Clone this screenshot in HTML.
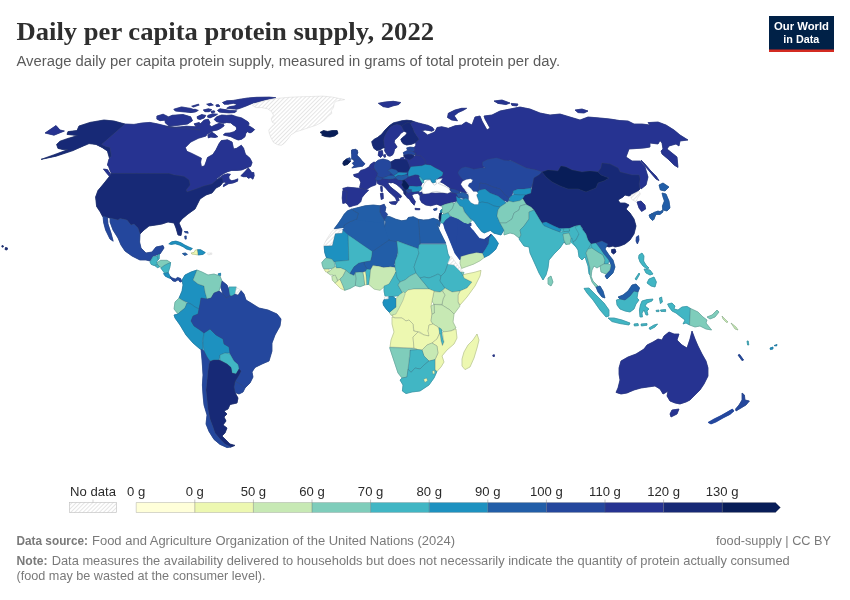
<!DOCTYPE html>
<html lang="en"><head><meta charset="utf-8"><title>Daily per capita protein supply, 2022</title>
<style>
html,body{margin:0;padding:0;background:#fff;}
body{width:850px;height:600px;overflow:hidden;position:relative;font-family:"Liberation Sans",sans-serif;}
svg{position:absolute;left:0;top:0;}
.title{font-family:"Liberation Serif",serif;font-weight:bold;font-size:26px;fill:#2e2e2e;}
.sub{font-size:14px;fill:#5b5b5b;}
.lg{font-size:13.1px;fill:#2b2b2b;}
.ft{font-size:12.4px;fill:#7a7a7a;}
.ft.b{font-weight:bold;}
.logo{font-weight:bold;font-size:11.8px;fill:#fff;}
</style></head><body>
<svg width="850" height="600" viewBox="0 0 850 600">
<defs>
<pattern id="hatch" width="2.9" height="2.9" patternUnits="userSpaceOnUse" patternTransform="rotate(45)"><rect width="2.9" height="2.9" fill="#fff"/><rect width="0.75" height="2.9" fill="#dedede"/></pattern>
</defs>
<rect width="850" height="600" fill="#fff"/>
<text x="16.5" y="40" class="title" textLength="417.5" lengthAdjust="spacingAndGlyphs">Daily per capita protein supply, 2022</text>
<text x="16.5" y="66.3" class="sub" textLength="543.5" lengthAdjust="spacingAndGlyphs">Average daily per capita protein supply, measured in grams of total protein per day.</text>
<g id="logo"><rect x="769" y="16" width="65" height="36" fill="#002147"/><rect x="769" y="49.5" width="65" height="2.5" fill="#d42b21"/>
<text x="774" y="30.3" class="logo" textLength="55" lengthAdjust="spacingAndGlyphs">Our World</text><text x="783.3" y="42.5" class="logo" textLength="36" lengthAdjust="spacingAndGlyphs">in Data</text></g>
<g id="map">
<path d="M79.0,126.0 90.0,122.4 104.0,120.0 114.0,121.0 125.0,124.0 101.6,144.4 106.0,146.4 110.0,147.6 111.4,156.0 109.4,158.0 107.4,151.0 102.0,147.4 96.0,144.4 89.0,143.6 80.0,147.4 73.0,150.6 56.0,156.2 41.0,159.4 55.0,154.4 68.0,149.6 63.0,149.6 58.0,148.4 56.6,144.4 60.0,141.2 68.0,138.4 77.6,135.6 67.0,134.4 68.0,131.6 77.0,130.6Z" fill="#172976" stroke="#172976" stroke-width="0.7" stroke-linejoin="round"/>
<path d="M45.0,133.0 56.0,125.6 60.0,130.0 64.4,131.0 54.0,135.2Z" fill="#263391" stroke="#263391" stroke-width="0.7" stroke-linejoin="round"/>
<path d="M125.0,124.0 134.0,124.4 142.0,123.0 150.0,122.4 158.0,124.0 166.0,126.0 174.0,127.0 182.0,127.0 190.0,128.0 200.0,130.0 166.1,127.1 175.3,127.7 186.1,126.2 195.0,126.7 200.0,124.2 204.2,120.0 208.3,119.2 210.0,122.5 209.2,125.0 211.7,126.7 215.0,125.0 219.2,123.3 223.3,124.2 224.2,125.8 220.8,128.3 217.5,130.0 213.3,130.8 210.0,132.5 206.7,134.6 206.0,136.0 198.3,138.3 190.7,142.1 185.3,147.5 186.8,151.3 190.7,152.9 196.8,155.9 201.4,158.2 200.6,162.1 201.4,166.7 204.5,165.9 206.0,162.1 207.5,157.5 212.9,154.4 216.0,149.8 219.0,143.7 221.3,140.6 227.5,139.8 232.1,142.1 233.6,149.0 236.7,148.3 241.3,145.2 243.6,148.3 245.4,154.2 250.0,158.3 252.1,162.5 250.8,166.2 246.7,167.9 241.7,170.0 236.7,170.4 231.7,170.4 227.5,171.7 223.3,173.8 219.2,176.7 216.7,178.8 220.0,186.0 223.0,182.0 222.0,178.0 218.0,179.0 212.0,184.0 204.0,186.0 196.0,189.0 187.0,192.0 186.0,190.0 190.0,185.0 189.0,180.0 184.0,176.4 174.0,175.0 169.0,173.6 111.4,173.4 110.0,170.4 108.6,166.4 107.4,165.0 109.0,159.0 111.4,156.0 110.0,147.6 106.0,146.4 101.6,144.4Z" fill="#263391" stroke="#263391" stroke-width="0.7" stroke-linejoin="round"/>
<path d="M164.6,118.4 172.3,115.3 183.0,114.5 190.7,116.8 192.5,120.7 187.6,124.0 178.4,125.3 169.2,126.0 165.4,123.0Z" fill="#263391" stroke="#263391" stroke-width="0.7" stroke-linejoin="round"/>
<path d="M156.9,116.1 163.1,114.2 167.7,116.4 166.4,119.9 160.0,120.7 156.9,119.1Z" fill="#263391" stroke="#263391" stroke-width="0.7" stroke-linejoin="round"/>
<path d="M218.8,178.2 223.3,175.0 227.5,173.8 230.4,174.2 228.8,176.7 229.2,179.2 231.7,180.8 235.0,180.0 237.9,178.8 237.5,181.2 233.3,182.9 228.3,183.8 225.0,185.8 223.3,186.7 223.8,184.6 226.7,182.9 224.2,182.1 222.5,182.5 222.1,178.3Z" fill="#263391" stroke="#263391" stroke-width="0.7" stroke-linejoin="round"/>
<path d="M240.8,175.8 244.2,172.5 248.3,167.9 250.0,170.0 251.7,172.5 253.8,172.5 254.2,175.8 252.9,179.2 250.8,177.5 248.3,178.3 246.7,176.7 243.3,176.7Z" fill="#263391" stroke="#263391" stroke-width="0.7" stroke-linejoin="round"/>
<path d="M214.2,119.6 216.7,116.7 221.7,115.0 226.7,115.4 231.7,115.0 236.7,116.7 241.7,117.9 245.0,120.0 248.3,122.1 249.2,124.2 247.5,125.0 251.7,127.5 254.6,129.6 252.5,131.7 250.0,132.9 247.5,131.7 245.8,133.3 245.0,136.7 241.7,139.2 238.3,140.0 235.0,138.8 230.8,136.7 226.7,135.8 223.3,135.0 225.0,133.3 230.0,132.9 234.2,131.7 236.7,129.2 236.2,126.7 233.3,125.0 230.8,122.9 226.7,122.5 223.3,123.3 220.0,122.5 216.7,121.7Z" fill="#263391" stroke="#263391" stroke-width="0.7" stroke-linejoin="round"/>
<path d="M207.9,135.0 211.7,132.1 215.0,134.2 217.9,136.7 215.0,137.5 210.8,137.1 208.3,137.9Z" fill="#263391" stroke="#263391" stroke-width="0.7" stroke-linejoin="round"/>
<path d="M222.5,102.5 226.7,100.8 233.3,100.4 240.0,99.2 248.3,97.9 256.7,97.3 269.2,97.1 275.8,97.7 270.0,98.8 263.3,100.4 256.7,102.3 253.3,102.9 246.7,105.8 240.0,108.3 236.7,109.2 231.7,108.8 226.7,108.3 229.2,106.7 235.0,105.8 236.7,104.2 233.3,103.3 228.3,104.2 224.2,104.2Z" fill="#263391" stroke="#263391" stroke-width="0.7" stroke-linejoin="round"/>
<path d="M217.5,110.4 220.0,108.8 225.0,109.6 230.0,110.4 236.7,110.8 235.0,112.5 229.2,112.9 223.3,112.5 219.2,112.1Z" fill="#263391" stroke="#263391" stroke-width="0.7" stroke-linejoin="round"/>
<path d="M173.8,109.2 181.5,106.9 190.7,108.4 196.8,110.7 190.7,112.5 183.0,111.8 175.3,111.0Z" fill="#263391" stroke="#263391" stroke-width="0.7" stroke-linejoin="round"/>
<path d="M191.7,106.2 198.3,104.2 199.2,105.0 193.3,107.1Z" fill="#263391" stroke="#263391" stroke-width="0.7" stroke-linejoin="round"/>
<path d="M190.0,110.8 195.0,109.2 198.3,110.4 195.0,112.1 190.0,112.5Z" fill="#263391" stroke="#263391" stroke-width="0.7" stroke-linejoin="round"/>
<path d="M203.3,110.0 208.3,108.8 211.7,109.6 209.2,111.7 205.0,111.7Z" fill="#263391" stroke="#263391" stroke-width="0.7" stroke-linejoin="round"/>
<path d="M206.7,104.2 210.8,103.3 213.3,105.0 209.2,105.8Z" fill="#263391" stroke="#263391" stroke-width="0.7" stroke-linejoin="round"/>
<path d="M215.8,105.0 218.3,104.6 220.0,106.2 216.7,106.7Z" fill="#263391" stroke="#263391" stroke-width="0.7" stroke-linejoin="round"/>
<path d="M210.8,111.2 214.2,110.8 215.0,112.1 211.7,112.9Z" fill="#263391" stroke="#263391" stroke-width="0.7" stroke-linejoin="round"/>
<path d="M197.1,116.7 201.7,114.6 205.8,115.4 204.2,117.9 200.0,119.6 197.5,118.8Z" fill="#263391" stroke="#263391" stroke-width="0.7" stroke-linejoin="round"/>
<path d="M207.9,115.4 212.5,113.8 217.5,114.2 215.0,115.8 210.0,117.9 207.5,117.1Z" fill="#263391" stroke="#263391" stroke-width="0.7" stroke-linejoin="round"/>
<path d="M194.2,123.8 199.2,122.5 200.8,124.2 198.3,125.8 195.0,125.4Z" fill="#263391" stroke="#263391" stroke-width="0.7" stroke-linejoin="round"/>
<path d="M320.0,132.4 323.5,130.6 327.6,131.4 332.4,130.6 337.1,130.6 338.0,133.5 334.7,135.9 330.0,137.1 325.3,136.5 321.8,135.3 322.4,133.8Z" fill="#081d58" stroke="#081d58" stroke-width="0.7" stroke-linejoin="round"/>
<path d="M5.5,247.5 7.5,248.0 7.0,250.0 5.0,249.5Z" fill="#172976" stroke="#172976" stroke-width="0.7" stroke-linejoin="round"/>
<path d="M2.0,245.5 3.5,246.0 3.0,247.2 1.8,246.8Z" fill="#172976" stroke="#172976" stroke-width="0.7" stroke-linejoin="round"/>
<path d="M103.4,169.0 107.4,169.6 111.4,175.0 110.0,177.0 106.6,173.0Z" fill="#263391" stroke="#263391" stroke-width="0.7" stroke-linejoin="round"/>
<path d="M111.4,173.4 169.0,173.6 174.0,175.0 184.0,176.4 189.0,180.0 190.0,185.0 186.0,190.0 187.0,192.0 196.0,189.0 204.0,186.0 212.0,184.0 218.0,179.0 222.0,178.0 223.0,182.0 220.0,186.0 216.0,188.0 212.0,193.0 206.0,195.0 200.0,199.0 198.0,203.0 195.0,209.0 188.0,214.0 182.0,219.0 179.0,223.0 182.0,230.0 181.0,235.6 178.0,235.0 176.0,228.0 174.0,223.0 168.0,222.0 162.0,224.0 156.0,225.0 149.0,226.0 144.0,230.0 140.0,234.0 138.0,228.0 134.0,224.0 131.0,225.0 127.0,220.0 120.0,218.4 118.0,220.0 110.0,218.0 102.6,216.4 100.0,211.6 96.6,206.4 95.6,197.0 98.0,190.4 102.6,185.0 108.6,177.6Z" fill="#172976" stroke="#172976" stroke-width="0.7" stroke-linejoin="round"/>
<path d="M110.0,218.0 118.0,220.0 120.0,218.4 127.0,220.0 131.0,225.0 134.0,224.0 138.0,228.0 140.0,234.0 139.6,242.0 141.0,248.0 146.0,253.0 152.0,252.0 156.0,247.0 163.0,245.6 164.0,248.0 160.0,254.0 155.0,255.6 153.0,256.0 150.0,261.0 146.0,260.0 140.0,260.0 132.0,256.0 125.0,251.0 121.0,245.0 118.0,238.0 113.0,230.0 110.0,222.0Z" fill="#24479d" stroke="#24479d" stroke-width="0.7" stroke-linejoin="round"/>
<path d="M103.0,216.0 107.4,217.2 108.0,224.0 111.0,233.0 113.2,241.2 110.0,239.0 105.6,230.0 103.6,222.4Z" fill="#24479d" stroke="#24479d" stroke-width="0.7" stroke-linejoin="round"/>
<path d="M150.0,262.1 152.9,256.8 157.1,256.2 158.2,259.7 156.5,262.1 157.6,264.4 154.1,265.6 151.2,264.4Z" fill="#41b6c4" stroke="#41b6c4" stroke-width="0.7" stroke-linejoin="round"/>
<path d="M157.3,255.6 159.4,253.8 159.2,258.5 158.2,259.7Z" fill="#41b6c4" stroke="#41b6c4" stroke-width="0.7" stroke-linejoin="round"/>
<path d="M157.1,262.6 160.6,260.3 167.1,260.3 170.6,262.6 167.6,263.8 164.1,265.6 161.8,267.4 159.4,266.8 157.6,264.4Z" fill="#7fcdbb" stroke="#7fcdbb" stroke-width="0.7" stroke-linejoin="round"/>
<path d="M154.7,265.6 157.6,264.6 159.6,266.8 157.6,267.7Z" fill="#41b6c4" stroke="#41b6c4" stroke-width="0.7" stroke-linejoin="round"/>
<path d="M160.8,267.9 161.8,267.4 164.1,265.6 167.6,263.8 170.6,262.6 170.0,266.8 168.2,272.6 164.7,273.2 162.4,270.3Z" fill="#41b6c4" stroke="#41b6c4" stroke-width="0.7" stroke-linejoin="round"/>
<path d="M163.5,273.6 168.2,272.6 170.0,276.2 171.2,278.5 168.8,277.9 165.3,276.2Z" fill="#1d91c0" stroke="#1d91c0" stroke-width="0.7" stroke-linejoin="round"/>
<path d="M170.6,278.5 170.0,276.4 172.4,277.9 175.3,279.1 177.6,277.4 180.6,278.5 181.8,281.5 180.0,282.1 178.2,279.7 175.3,281.5 172.9,280.9Z" fill="#24479d" stroke="#24479d" stroke-width="0.7" stroke-linejoin="round"/>
<path d="M168.8,243.8 171.8,241.8 175.9,241.1 180.6,242.6 184.7,245.0 188.8,247.0 192.4,248.5 190.6,250.1 186.5,249.1 183.5,247.0 179.4,245.0 175.3,243.8 171.2,244.4Z" fill="#1d91c0" stroke="#1d91c0" stroke-width="0.7" stroke-linejoin="round"/>
<path d="M191.2,252.9 194.1,252.4 195.3,250.1 197.6,249.7 198.2,255.0 194.7,254.4 191.8,254.1Z" fill="#edf8b1" stroke="#edf8b1" stroke-width="0.7" stroke-linejoin="round"/>
<path d="M197.6,249.7 200.6,249.7 205.3,252.6 202.9,254.4 198.2,255.0Z" fill="#1d91c0" stroke="#1d91c0" stroke-width="0.7" stroke-linejoin="round"/>
<path d="M182.4,253.6 185.3,252.9 187.4,254.4 184.7,255.4Z" fill="#225ea8" stroke="#225ea8" stroke-width="0.7" stroke-linejoin="round"/>
<path d="M184.1,231.5 187.6,231.5 188.2,233.2 185.3,232.6Z" fill="#24479d" stroke="#24479d" stroke-width="0.7" stroke-linejoin="round"/>
<path d="M184.7,236.2 186.2,235.9 186.2,239.1 185.1,239.1Z" fill="#24479d" stroke="#24479d" stroke-width="0.7" stroke-linejoin="round"/>
<path d="M218.2,273.8 220.6,273.2 220.6,275.6 218.5,275.6Z" fill="#1d91c0" stroke="#1d91c0" stroke-width="0.7" stroke-linejoin="round"/>
<path d="M182.0,280.0 185.0,275.0 191.0,272.0 197.0,270.0 195.0,275.0 193.0,280.0 198.0,284.0 204.0,286.0 205.0,292.0 207.0,299.0 201.0,298.0 200.0,304.0 199.0,309.0 195.0,307.0 191.0,304.0 187.0,302.0 182.0,300.0 179.0,298.0 182.0,291.0 183.0,285.0Z" fill="#1d91c0" stroke="#1d91c0" stroke-width="0.7" stroke-linejoin="round"/>
<path d="M197.0,270.0 195.0,275.0 193.0,280.0 198.0,284.0 204.0,286.0 205.0,292.0 207.0,299.0 211.0,298.0 214.0,293.0 219.0,291.0 221.0,285.0 222.0,281.0 220.0,276.0 214.0,274.0 208.0,275.0 202.0,272.0Z" fill="#7fcdbb" stroke="#7fcdbb" stroke-width="0.7" stroke-linejoin="round"/>
<path d="M222.0,281.0 227.0,285.0 229.0,290.0 230.0,296.0 226.0,298.0 223.0,294.0 221.0,288.0 221.0,285.0Z" fill="#24479d" stroke="#24479d" stroke-width="0.7" stroke-linejoin="round"/>
<path d="M229.0,287.0 236.4,287.0 235.2,294.0 232.0,296.0 230.0,295.4 229.0,290.0Z" fill="#41b6c4" stroke="#41b6c4" stroke-width="0.7" stroke-linejoin="round"/>
<path d="M175.0,302.0 179.0,298.0 182.0,300.0 187.0,303.0 185.0,308.0 180.0,312.0 178.0,314.0 174.0,309.0Z" fill="#7fcdbb" stroke="#7fcdbb" stroke-width="0.7" stroke-linejoin="round"/>
<path d="M174.0,315.0 178.0,314.0 180.0,312.0 185.0,308.0 187.0,303.0 191.0,304.0 195.0,307.0 199.0,309.0 198.0,314.0 193.0,316.0 191.0,321.0 194.0,326.0 200.0,330.0 204.0,333.0 202.4,341.0 203.0,350.0 200.0,349.0 193.0,343.0 186.0,335.0 180.0,325.0 175.0,318.0Z" fill="#1d91c0" stroke="#1d91c0" stroke-width="0.7" stroke-linejoin="round"/>
<path d="M204.0,333.0 210.0,329.0 216.0,335.0 223.0,339.0 224.0,344.0 229.0,347.0 230.0,353.0 225.0,353.0 220.0,355.0 219.0,360.0 214.0,360.0 210.0,361.0 207.0,357.0 204.0,351.0 203.0,343.0Z" fill="#1d91c0" stroke="#1d91c0" stroke-width="0.7" stroke-linejoin="round"/>
<path d="M207.0,299.0 211.0,298.0 214.0,293.0 219.0,291.0 223.0,294.0 226.0,298.0 230.0,296.0 232.0,296.0 235.0,294.0 238.0,295.0 241.0,290.6 244.0,294.0 246.0,300.0 251.0,303.0 259.0,308.0 268.0,310.0 277.0,314.0 281.0,319.0 280.0,326.0 275.0,335.0 272.0,343.0 272.0,351.0 269.0,361.0 262.0,364.0 255.0,367.4 252.0,372.0 253.0,377.0 250.0,383.0 245.0,388.0 240.0,384.0 235.0,381.4 239.0,375.0 241.0,371.0 239.0,369.0 238.0,364.6 234.0,361.0 230.0,354.0 229.0,347.0 224.0,344.0 223.0,339.0 216.0,335.0 210.0,329.0 204.0,333.0 200.0,330.0 194.0,326.0 191.0,321.0 193.0,316.0 198.0,314.0 199.0,309.0 200.0,304.0 201.0,298.0Z" fill="#24479d" stroke="#24479d" stroke-width="0.7" stroke-linejoin="round"/>
<path d="M220.0,355.0 225.0,353.0 230.0,354.0 234.0,361.0 238.0,364.6 239.0,369.0 236.0,374.0 232.0,373.0 231.0,367.4 227.0,364.0 220.0,360.0Z" fill="#41b6c4" stroke="#41b6c4" stroke-width="0.7" stroke-linejoin="round"/>
<path d="M235.0,381.4 240.0,384.0 245.0,388.0 243.0,392.0 239.0,394.0 235.0,392.6 234.0,387.0Z" fill="#24479d" stroke="#24479d" stroke-width="0.7" stroke-linejoin="round"/>
<path d="M210.0,361.4 214.0,360.0 219.0,360.0 227.0,364.0 231.0,367.4 232.0,373.0 236.0,374.0 239.0,369.0 241.0,371.0 239.0,375.0 235.0,381.4 234.0,387.0 235.0,392.6 238.0,398.0 237.0,403.0 230.0,404.6 228.0,409.0 224.0,411.0 227.0,414.0 224.0,417.0 226.0,421.0 223.0,425.0 227.0,428.0 225.0,433.0 222.0,436.0 225.0,439.0 230.0,444.0 235.0,445.4 231.0,447.0 225.0,444.0 220.0,439.0 215.0,433.0 213.0,427.0 210.0,419.0 208.0,409.0 207.0,399.0 206.0,390.0 207.0,381.0 208.0,371.0 209.0,364.0Z" fill="#172976" stroke="#172976" stroke-width="0.7" stroke-linejoin="round"/>
<path d="M201.0,349.0 204.0,351.0 207.0,357.0 210.0,361.4 209.0,364.0 208.0,371.0 207.0,381.0 206.0,390.0 207.0,399.0 208.0,409.0 210.0,419.0 213.0,427.0 215.0,433.0 220.0,439.0 225.0,444.0 231.0,447.0 227.0,447.6 220.0,444.4 214.0,439.4 209.0,431.4 206.0,424.0 207.0,415.0 204.0,405.0 203.0,395.0 202.4,385.0 203.0,375.0 202.4,365.0 201.6,355.0Z" fill="#24479d" stroke="#24479d" stroke-width="0.7" stroke-linejoin="round"/>
<path d="M375.8,164.4 391.4,162.7 402.2,160.1 407.0,157.7 421.4,157.2 428.6,165.6 423.2,179.4 421.4,184.8 411.8,186.0 407.0,189.6 395.0,182.4 383.0,182.4 375.8,180.0Z" fill="#263391" stroke="#263391" stroke-width="0.7" stroke-linejoin="round"/>
<path d="M378.3,103.3 385.0,102.0 393.3,101.3 400.8,102.5 398.3,104.7 393.3,105.8 388.3,107.5 383.3,106.7Z" fill="#263391" stroke="#263391" stroke-width="0.7" stroke-linejoin="round"/>
<path d="M448.3,113.3 455.0,110.0 461.7,108.3 466.7,108.3 463.3,110.3 458.3,112.5 454.2,115.8 457.5,120.8 451.7,120.0 447.5,117.5Z" fill="#263391" stroke="#263391" stroke-width="0.7" stroke-linejoin="round"/>
<path d="M371.7,141.7 374.2,139.2 377.5,137.5 381.7,134.2 385.0,130.0 389.2,125.8 393.3,122.9 398.3,121.7 401.7,120.8 406.7,120.2 411.7,120.7 414.2,121.7 411.7,122.5 410.4,123.3 408.3,122.5 405.8,123.3 403.3,125.0 401.7,126.2 399.2,125.0 396.7,124.6 393.3,125.4 390.0,127.5 387.1,131.7 384.6,136.7 383.8,140.0 384.2,144.2 385.0,147.9 382.9,147.9 380.0,150.0 376.7,150.4 373.8,148.3 372.5,145.0Z" fill="#172976" stroke="#172976" stroke-width="0.7" stroke-linejoin="round"/>
<path d="M390.0,127.5 393.3,125.4 396.7,124.6 399.2,125.0 401.7,126.2 402.9,128.8 403.7,131.5 400.8,133.3 399.0,135.8 396.7,138.2 394.6,140.0 394.2,142.5 396.2,145.4 397.1,147.1 394.6,149.2 393.8,152.5 392.5,155.0 390.0,156.2 387.9,155.8 386.7,154.2 384.6,150.8 385.0,147.9 384.2,144.2 383.8,140.0 384.6,136.7 387.1,131.7Z" fill="#263391" stroke="#263391" stroke-width="0.7" stroke-linejoin="round"/>
<path d="M401.7,126.2 403.3,125.0 405.8,123.3 408.3,122.5 410.4,123.3 411.7,125.8 413.3,128.8 414.2,131.7 416.7,135.8 419.2,139.2 415.8,142.5 411.7,144.2 406.7,145.0 403.3,143.8 401.7,141.7 400.8,139.2 403.2,137.1 405.8,135.0 407.2,132.7 404.2,131.2 402.9,128.8Z" fill="#172976" stroke="#172976" stroke-width="0.7" stroke-linejoin="round"/>
<path d="M406.7,147.9 410.0,147.1 414.2,147.5 415.0,150.0 413.3,151.7 410.4,150.8 407.5,150.4Z" fill="#24479d" stroke="#24479d" stroke-width="0.7" stroke-linejoin="round"/>
<path d="M403.3,152.5 406.7,150.8 410.4,151.0 413.3,151.7 415.8,153.8 415.0,155.0 411.7,154.6 408.3,154.2 405.8,154.8 403.8,154.6Z" fill="#24479d" stroke="#24479d" stroke-width="0.7" stroke-linejoin="round"/>
<path d="M403.8,155.0 405.8,154.8 408.3,154.2 411.7,154.6 414.2,155.8 413.3,158.3 411.2,160.0 408.3,159.6 405.8,158.3 404.2,157.1Z" fill="#172976" stroke="#172976" stroke-width="0.7" stroke-linejoin="round"/>
<path d="M351.8,150.0 357.2,150.0 357.8,152.4 356.6,154.8 359.6,157.8 362.0,160.8 365.0,163.8 362.6,166.2 358.4,166.8 351.8,168.0 354.2,165.6 352.4,163.2 354.2,161.4 353.0,158.4 354.8,156.0 351.8,153.6Z" fill="#24479d" stroke="#24479d" stroke-width="0.7" stroke-linejoin="round"/>
<path d="M351.7,150.0 355.8,149.2 357.5,153.3 356.7,155.8 360.0,159.2 351.7,159.2 351.7,155.0Z" fill="#24479d" stroke="#24479d" stroke-width="0.7" stroke-linejoin="round"/>
<path d="M343.4,161.4 346.4,159.0 348.4,159.8 350.6,161.4 347.6,164.4 344.0,165.6 342.8,163.8Z" fill="#081d58" stroke="#081d58" stroke-width="0.7" stroke-linejoin="round"/>
<path d="M347.0,158.6 350.0,157.8 350.6,160.6 348.4,160.3Z" fill="#24479d" stroke="#24479d" stroke-width="0.7" stroke-linejoin="round"/>
<path d="M353.6,174.6 358.4,173.4 360.8,170.4 365.0,169.2 369.2,166.8 372.2,169.2 375.2,169.8 377.6,173.4 377.0,175.8 375.2,178.8 376.4,181.2 375.8,184.8 371.0,186.6 368.0,188.4 366.2,189.6 360.8,188.4 359.6,187.2 360.8,182.4 359.0,178.2 354.2,176.4Z" fill="#263391" stroke="#263391" stroke-width="0.7" stroke-linejoin="round"/>
<path d="M370.4,164.4 374.0,162.0 375.2,162.6 374.0,166.8 375.2,169.8 372.2,169.2 369.2,166.8Z" fill="#263391" stroke="#263391" stroke-width="0.7" stroke-linejoin="round"/>
<path d="M375.2,162.6 378.2,160.2 383.0,159.0 387.8,160.2 390.8,162.0 391.4,166.8 389.6,169.2 391.4,172.8 389.0,175.5 385.4,177.0 382.4,177.9 378.8,177.0 377.0,175.8 377.6,173.4 375.2,169.8 374.0,166.8Z" fill="#24479d" stroke="#24479d" stroke-width="0.7" stroke-linejoin="round"/>
<path d="M378.8,151.2 382.4,150.6 383.0,154.8 380.6,157.4 378.2,155.4Z" fill="#263391" stroke="#263391" stroke-width="0.7" stroke-linejoin="round"/>
<path d="M383.6,155.0 385.4,154.6 385.7,157.0 384.0,157.2Z" fill="#263391" stroke="#263391" stroke-width="0.7" stroke-linejoin="round"/>
<path d="M375.8,178.2 377.0,175.8 378.8,177.0 382.4,177.9 381.2,180.0 377.6,180.6 375.8,180.0Z" fill="#24479d" stroke="#24479d" stroke-width="0.7" stroke-linejoin="round"/>
<path d="M382.4,177.9 385.4,177.0 389.0,175.5 393.8,175.5 395.6,177.0 396.2,178.8 394.4,178.8 389.6,179.4 385.4,179.1 383.0,178.8Z" fill="#225ea8" stroke="#225ea8" stroke-width="0.7" stroke-linejoin="round"/>
<path d="M387.8,170.4 391.4,168.6 396.2,169.8 398.6,172.2 396.2,174.0 393.8,175.5 391.4,173.4 389.6,171.6Z" fill="#225ea8" stroke="#225ea8" stroke-width="0.7" stroke-linejoin="round"/>
<path d="M390.8,162.0 395.0,159.6 402.2,159.0 407.0,160.2 408.8,164.4 410.0,168.6 408.2,171.6 403.4,172.4 398.6,172.2 396.2,169.8 391.4,168.6 391.4,166.8Z" fill="#172976" stroke="#172976" stroke-width="0.7" stroke-linejoin="round"/>
<path d="M396.2,174.0 398.6,172.3 403.4,172.4 407.6,172.8 406.4,174.6 401.6,175.8 398.0,175.5 395.6,177.0 393.8,175.5Z" fill="#1d91c0" stroke="#1d91c0" stroke-width="0.7" stroke-linejoin="round"/>
<path d="M395.6,177.0 398.0,175.5 401.6,175.8 406.4,174.6 408.5,175.8 407.0,178.2 402.2,180.6 398.0,180.0 396.2,178.8Z" fill="#225ea8" stroke="#225ea8" stroke-width="0.7" stroke-linejoin="round"/>
<path d="M389.6,179.4 394.4,178.8 396.2,178.8 398.0,180.0 402.2,180.6 402.8,182.4 401.6,184.8 404.0,188.4 402.2,189.6 399.2,186.6 396.2,184.2 392.6,182.4 390.8,183.0 389.0,181.5Z" fill="#263391" stroke="#263391" stroke-width="0.7" stroke-linejoin="round"/>
<path d="M402.2,180.6 404.6,180.0 407.0,182.4 409.4,186.0 408.2,189.0 405.8,190.2 404.0,188.4 401.6,184.8 402.8,182.4Z" fill="#081d58" stroke="#081d58" stroke-width="0.7" stroke-linejoin="round"/>
<path d="M402.2,189.6 404.0,188.4 405.8,190.2 406.7,191.4 405.8,195.6 404.0,193.8 403.7,191.4Z" fill="#172976" stroke="#172976" stroke-width="0.7" stroke-linejoin="round"/>
<path d="M405.8,190.2 408.2,189.0 411.8,189.6 411.8,192.0 408.2,193.2 406.7,192.0Z" fill="#24479d" stroke="#24479d" stroke-width="0.7" stroke-linejoin="round"/>
<path d="M407.0,178.2 411.2,177.0 415.4,175.8 419.0,177.0 420.2,180.0 422.0,183.0 420.8,186.0 416.6,186.6 411.8,186.0 409.4,186.0 407.0,182.4 404.6,180.0Z" fill="#263391" stroke="#263391" stroke-width="0.7" stroke-linejoin="round"/>
<path d="M419.0,177.0 420.8,175.8 423.2,179.4 423.8,182.4 422.0,183.0 420.2,180.0Z" fill="#41b6c4" stroke="#41b6c4" stroke-width="0.7" stroke-linejoin="round"/>
<path d="M409.4,186.0 411.8,186.0 416.6,186.6 420.8,186.0 421.7,189.0 419.0,191.4 414.2,192.0 411.8,192.0 411.8,189.6 408.2,189.0Z" fill="#1d91c0" stroke="#1d91c0" stroke-width="0.7" stroke-linejoin="round"/>
<path d="M405.8,195.6 406.7,192.0 408.2,193.2 411.8,192.0 414.2,192.0 419.0,191.4 418.4,193.2 414.2,193.8 411.8,195.0 413.0,198.0 415.4,201.6 414.2,205.2 411.8,202.8 409.4,199.2 407.0,197.4Z" fill="#263391" stroke="#263391" stroke-width="0.7" stroke-linejoin="round"/>
<path d="M377.0,180.6 381.2,180.0 383.0,178.8 385.4,179.1 389.6,179.4 389.0,181.5 387.8,183.0 389.6,186.0 393.8,189.6 398.6,193.2 401.6,196.2 400.4,198.0 398.0,196.8 399.2,200.4 396.8,201.6 395.6,198.0 392.6,195.0 389.0,192.0 386.0,188.4 383.0,185.4 380.0,184.8 377.6,183.6Z" fill="#263391" stroke="#263391" stroke-width="0.7" stroke-linejoin="round"/>
<path d="M389.0,202.2 395.0,201.4 397.4,201.9 395.6,204.6 391.4,204.0Z" fill="#263391" stroke="#263391" stroke-width="0.7" stroke-linejoin="round"/>
<path d="M380.6,186.6 382.2,186.4 382.4,191.4 381.0,191.4Z" fill="#263391" stroke="#263391" stroke-width="0.7" stroke-linejoin="round"/>
<path d="M380.4,193.5 383.0,193.0 383.3,198.6 381.2,199.5Z" fill="#263391" stroke="#263391" stroke-width="0.7" stroke-linejoin="round"/>
<path d="M342.8,188.4 347.6,187.2 354.2,187.8 360.8,188.4 366.2,189.6 368.6,190.2 365.0,193.8 362.0,197.4 360.8,201.6 357.8,204.6 353.0,205.8 349.4,207.0 347.6,204.6 345.8,202.8 346.4,198.0 347.0,191.4 343.4,190.8Z" fill="#263391" stroke="#263391" stroke-width="0.7" stroke-linejoin="round"/>
<path d="M342.8,190.8 347.0,191.4 346.4,198.0 345.8,202.8 342.8,203.4 342.2,198.0Z" fill="#263391" stroke="#263391" stroke-width="0.7" stroke-linejoin="round"/>
<path d="M400.5,158.0 403.7,157.2 403.7,159.3 400.8,159.3Z" fill="#263391" stroke="#263391" stroke-width="0.7" stroke-linejoin="round"/>
<path d="M410.0,159.7 413.3,157.5 415.8,155.0 420.8,155.8 425.0,160.0 425.8,164.2 421.7,165.8 415.0,166.3 410.8,166.7 409.2,164.2Z" fill="#263391" stroke="#263391" stroke-width="0.7" stroke-linejoin="round"/>
<path d="M410.0,168.3 410.8,166.7 415.0,166.3 421.7,165.8 425.8,164.2 430.8,165.0 435.0,167.5 440.0,170.0 443.3,172.5 442.5,175.8 438.3,178.3 435.0,179.7 435.8,182.0 433.3,182.8 430.8,181.7 430.8,179.2 425.8,179.2 423.3,180.3 420.8,177.5 418.3,175.0 415.0,174.7 411.7,175.8 408.3,176.7 408.0,174.2 408.3,171.7Z" fill="#1d91c0" stroke="#1d91c0" stroke-width="0.7" stroke-linejoin="round"/>
<path d="M415.0,208.3 420.0,208.7 419.7,209.8 415.3,209.7Z" fill="#263391" stroke="#263391" stroke-width="0.7" stroke-linejoin="round"/>
<path d="M433.3,209.2 437.0,208.0 436.7,210.0 434.2,210.5Z" fill="#24479d" stroke="#24479d" stroke-width="0.7" stroke-linejoin="round"/>
<path d="M420.0,195.8 423.3,194.2 428.3,192.5 435.0,193.3 441.7,193.0 450.0,192.5 456.7,193.3 459.2,197.5 457.5,200.8 451.7,202.5 445.0,204.2 440.8,205.8 436.7,204.2 430.8,205.8 425.8,205.0 421.7,202.5 420.0,199.2Z" fill="#263391" stroke="#263391" stroke-width="0.7" stroke-linejoin="round"/>
<path d="M418.3,193.0 422.0,192.0 422.5,194.7 419.3,195.3Z" fill="#263391" stroke="#263391" stroke-width="0.7" stroke-linejoin="round"/>
<path d="M450.0,188.3 455.0,189.2 460.0,190.8 459.2,193.3 456.7,193.3 451.7,191.7Z" fill="#24479d" stroke="#24479d" stroke-width="0.7" stroke-linejoin="round"/>
<path d="M459.2,193.3 463.3,192.5 468.3,195.0 466.7,199.2 462.5,198.3 459.2,197.5 457.5,195.0Z" fill="#225ea8" stroke="#225ea8" stroke-width="0.7" stroke-linejoin="round"/>
<path d="M441.7,205.8 445.0,204.2 451.7,202.5 454.2,203.3 452.5,208.3 448.3,212.5 444.2,214.2 441.7,211.7 442.5,208.3Z" fill="#7fcdbb" stroke="#7fcdbb" stroke-width="0.7" stroke-linejoin="round"/>
<path d="M440.3,210.8 442.0,209.2 441.8,212.7 440.5,212.7Z" fill="#1d91c0" stroke="#1d91c0" stroke-width="0.7" stroke-linejoin="round"/>
<path d="M439.7,213.3 441.5,212.8 441.2,218.3 440.0,222.0 439.0,217.5Z" fill="#081d58" stroke="#081d58" stroke-width="0.7" stroke-linejoin="round"/>
<path d="M441.7,214.7 444.2,214.2 448.3,212.8 450.0,216.7 445.8,220.0 443.3,223.3 440.8,222.7 441.3,218.3Z" fill="#41b6c4" stroke="#41b6c4" stroke-width="0.7" stroke-linejoin="round"/>
<path d="M452.5,208.3 454.2,203.3 457.5,201.0 460.3,201.7 462.5,205.8 464.2,211.7 468.3,216.7 471.7,220.8 468.3,224.2 464.2,223.3 458.3,219.2 451.7,216.7 450.0,215.0 448.3,212.8Z" fill="#7fcdbb" stroke="#7fcdbb" stroke-width="0.7" stroke-linejoin="round"/>
<path d="M468.3,224.2 471.0,223.0 471.0,226.0Z" fill="#24479d" stroke="#24479d" stroke-width="0.7" stroke-linejoin="round"/>
<path d="M443.3,223.3 445.8,220.0 450.0,216.7 451.7,216.7 458.3,219.2 464.2,223.3 468.3,224.2 470.3,227.5 473.3,233.0 476.0,238.3 478.7,245.8 478.3,253.3 468.3,256.7 462.5,257.5 460.0,260.0 455.0,253.3 451.7,245.0 448.3,236.7 445.0,229.2Z" fill="#24479d" stroke="#24479d" stroke-width="0.7" stroke-linejoin="round"/>
<path d="M418.3,219.2 423.3,220.0 428.3,219.7 433.3,218.3 438.3,220.0 440.3,223.0 439.2,226.7 437.0,223.7 439.2,230.0 443.3,238.3 445.8,243.3 420.0,243.3 419.2,230.0Z" fill="#225ea8" stroke="#225ea8" stroke-width="0.7" stroke-linejoin="round"/>
<path d="M385.0,215.8 390.0,216.7 395.8,219.2 401.7,220.8 406.7,220.0 408.3,217.5 413.3,216.7 418.3,219.2 419.2,230.0 420.0,243.3 420.0,249.2 417.5,250.0 416.7,248.3 397.5,240.8 393.3,242.5 389.2,240.0 385.0,236.7 384.2,228.3 385.8,221.7 384.2,220.0 385.8,217.5Z" fill="#225ea8" stroke="#225ea8" stroke-width="0.7" stroke-linejoin="round"/>
<path d="M380.0,205.8 384.2,204.2 385.8,207.5 385.0,211.7 387.5,214.2 385.8,217.5 384.2,220.0 381.7,215.8 379.7,211.7Z" fill="#24479d" stroke="#24479d" stroke-width="0.7" stroke-linejoin="round"/>
<path d="M351.7,209.2 358.3,207.5 365.0,205.8 373.3,205.0 380.0,205.8 379.7,211.7 381.7,215.8 384.2,220.0 384.2,228.3 385.0,236.7 389.2,240.0 374.2,250.8 370.8,250.8 360.0,243.3 343.3,227.5 344.2,225.0 350.0,221.7 356.7,219.2 358.3,213.3 355.0,211.7Z" fill="#225ea8" stroke="#225ea8" stroke-width="0.7" stroke-linejoin="round"/>
<path d="M351.7,209.2 355.0,211.7 358.3,213.3 356.7,219.2 350.0,221.7 344.2,225.0 343.3,227.5 334.2,228.7 338.3,223.3 341.7,218.3 344.2,214.2 347.5,210.8Z" fill="#225ea8" stroke="#225ea8" stroke-width="0.7" stroke-linejoin="round"/>
<path d="M342.4,229.7 355.3,219.7 383.5,223.2 388.8,240.3 372.4,251.5 348.2,235.0 342.9,230.3Z" fill="#225ea8" stroke="#225ea8" stroke-width="0.7" stroke-linejoin="round"/>
<path d="M324.1,246.2 332.4,245.8 334.1,238.5 335.3,233.8 342.4,233.2 342.9,230.3 348.2,235.0 348.8,260.3 335.3,261.5 334.1,262.1 331.8,259.1 326.5,257.9 324.7,252.6Z" fill="#1d91c0" stroke="#1d91c0" stroke-width="0.7" stroke-linejoin="round"/>
<path d="M348.2,235.0 372.4,251.5 371.8,256.8 370.6,260.9 364.1,262.1 358.8,263.2 354.1,266.8 351.2,271.5 350.0,273.8 345.9,270.3 340.6,267.9 336.5,267.9 335.3,262.1 335.3,261.5 348.8,260.3Z" fill="#41b6c4" stroke="#41b6c4" stroke-width="0.7" stroke-linejoin="round"/>
<path d="M372.4,251.5 388.8,240.3 396.5,241.5 398.2,249.1 396.5,257.4 394.1,264.4 395.3,267.4 390.6,266.8 383.5,267.4 378.8,266.2 372.9,265.6 370.6,269.7 367.1,269.1 364.1,264.4 364.1,262.1 370.6,260.9 371.8,256.8Z" fill="#225ea8" stroke="#225ea8" stroke-width="0.7" stroke-linejoin="round"/>
<path d="M350.0,273.8 351.2,271.5 354.1,266.8 358.8,263.2 364.1,262.1 364.1,264.4 367.1,269.1 365.3,271.5 360.0,272.1 355.3,272.6 354.1,275.6Z" fill="#225ea8" stroke="#225ea8" stroke-width="0.7" stroke-linejoin="round"/>
<path d="M365.3,271.5 367.1,269.1 370.6,269.7 370.0,276.2 368.8,284.4 366.5,284.6 366.1,276.2Z" fill="#41b6c4" stroke="#41b6c4" stroke-width="0.7" stroke-linejoin="round"/>
<path d="M362.9,272.6 365.3,271.5 366.1,276.2 366.5,284.6 364.7,285.0 363.8,277.4Z" fill="#edf8b1" stroke="#edf8b1" stroke-width="0.7" stroke-linejoin="round"/>
<path d="M355.3,272.6 360.0,272.1 362.9,272.6 363.8,277.4 364.7,285.0 360.0,286.8 355.3,285.6 355.9,278.5Z" fill="#7fcdbb" stroke="#7fcdbb" stroke-width="0.7" stroke-linejoin="round"/>
<path d="M370.6,269.7 372.9,265.6 378.8,266.2 383.5,267.4 390.6,266.8 395.3,267.4 396.2,271.9 392.2,279.0 389.3,284.1 387.1,285.6 383.5,287.4 380.0,290.3 374.1,289.1 368.8,284.4 370.0,276.2Z" fill="#c7e9b4" stroke="#c7e9b4" stroke-width="0.7" stroke-linejoin="round"/>
<path d="M321.8,262.6 324.7,259.1 326.5,257.9 331.8,259.1 334.1,262.1 335.3,266.8 331.8,268.5 327.1,269.1 323.5,268.5 322.4,265.6Z" fill="#7fcdbb" stroke="#7fcdbb" stroke-width="0.7" stroke-linejoin="round"/>
<path d="M324.1,269.4 328.8,269.1 329.4,271.5 325.9,272.1Z" fill="#edf8b1" stroke="#edf8b1" stroke-width="0.7" stroke-linejoin="round"/>
<path d="M327.1,272.6 329.4,271.5 331.8,269.1 335.3,266.8 336.5,267.9 340.6,267.9 345.9,270.3 342.9,276.2 340.0,279.1 337.6,280.9 336.5,277.4 332.9,275.0 330.6,275.0Z" fill="#c7e9b4" stroke="#c7e9b4" stroke-width="0.7" stroke-linejoin="round"/>
<path d="M331.8,276.2 335.3,275.0 337.6,280.9 335.3,283.2 332.4,280.3Z" fill="#c7e9b4" stroke="#c7e9b4" stroke-width="0.7" stroke-linejoin="round"/>
<path d="M335.3,283.2 337.6,280.9 340.0,279.1 342.9,285.6 344.7,290.3 340.6,288.5 337.6,285.6Z" fill="#edf8b1" stroke="#edf8b1" stroke-width="0.7" stroke-linejoin="round"/>
<path d="M342.9,276.2 345.9,270.3 350.0,273.8 354.1,275.6 355.3,272.6 355.9,278.5 355.3,285.6 350.0,288.5 344.7,290.3 342.9,285.6 340.0,279.1Z" fill="#7fcdbb" stroke="#7fcdbb" stroke-width="0.7" stroke-linejoin="round"/>
<path d="M397.0,241.2 418.0,248.6 419.2,252.0 416.0,261.0 414.0,267.0 416.0,273.0 410.0,276.0 405.0,280.0 400.0,282.0 397.0,278.0 395.0,273.0 396.0,272.0 395.0,267.0 395.0,261.0 398.0,254.0Z" fill="#41b6c4" stroke="#41b6c4" stroke-width="0.7" stroke-linejoin="round"/>
<path d="M396.0,272.0 397.0,278.0 400.0,282.0 398.0,285.0 402.0,292.0 403.0,296.0 396.0,296.0 389.0,297.0 385.0,296.0 384.0,291.0 384.0,286.0 389.0,284.0 392.0,279.0Z" fill="#41b6c4" stroke="#41b6c4" stroke-width="0.7" stroke-linejoin="round"/>
<path d="M400.0,282.0 405.0,280.0 410.0,276.0 416.0,273.0 420.0,278.0 425.0,284.0 429.0,289.0 422.0,289.0 414.0,289.0 408.0,290.0 404.0,294.0 402.0,292.0 398.0,285.0Z" fill="#7fcdbb" stroke="#7fcdbb" stroke-width="0.7" stroke-linejoin="round"/>
<path d="M419.0,244.4 446.0,244.4 448.0,254.0 451.0,260.0 448.0,263.0 445.0,272.0 441.0,276.0 438.0,274.0 434.0,276.0 429.0,278.0 424.0,277.0 420.0,278.0 416.0,273.0 414.0,267.0 416.0,261.0 419.0,253.0 418.0,250.0Z" fill="#41b6c4" stroke="#41b6c4" stroke-width="0.7" stroke-linejoin="round"/>
<path d="M420.0,278.0 424.0,277.0 429.0,278.0 434.0,276.0 438.0,274.0 441.0,276.0 440.0,281.0 445.0,288.0 440.0,292.0 434.0,291.0 429.0,289.0 425.0,284.0Z" fill="#41b6c4" stroke="#41b6c4" stroke-width="0.7" stroke-linejoin="round"/>
<path d="M445.0,272.0 448.0,264.0 454.0,265.0 460.0,271.0 463.0,275.0 464.0,278.0 472.0,282.0 467.0,288.0 460.0,291.0 452.0,292.0 445.0,288.0 440.0,281.0 441.0,276.0Z" fill="#41b6c4" stroke="#41b6c4" stroke-width="0.7" stroke-linejoin="round"/>
<path d="M461.0,272.0 464.0,272.4 463.0,275.6Z" fill="#7fcdbb" stroke="#7fcdbb" stroke-width="0.7" stroke-linejoin="round"/>
<path d="M463.0,275.0 466.0,274.0 474.0,272.4 481.0,270.4 480.0,276.0 475.0,286.0 467.0,297.0 460.0,305.0 458.0,302.0 458.0,295.0 460.0,291.0 467.0,288.0 472.0,282.0 464.0,278.0Z" fill="#edf8b1" stroke="#edf8b1" stroke-width="0.7" stroke-linejoin="round"/>
<path d="M445.0,288.0 452.0,292.0 460.0,291.0 458.0,295.0 458.0,302.0 460.0,306.0 454.0,314.0 450.0,310.0 442.0,305.0 443.0,299.0 445.0,295.0 442.4,291.0Z" fill="#c7e9b4" stroke="#c7e9b4" stroke-width="0.7" stroke-linejoin="round"/>
<path d="M434.0,291.6 440.0,292.0 442.4,291.0 445.0,295.0 443.0,299.0 442.0,304.4 434.0,304.4 432.0,301.0 433.0,296.0Z" fill="#c7e9b4" stroke="#c7e9b4" stroke-width="0.7" stroke-linejoin="round"/>
<path d="M408.0,290.0 414.0,289.0 422.0,289.0 429.0,289.0 434.0,291.0 433.0,296.0 432.0,301.0 431.0,306.0 432.0,314.0 431.0,321.0 433.0,324.0 429.0,325.0 428.0,331.0 430.0,336.0 424.0,335.0 420.0,332.0 414.0,331.0 413.0,324.0 409.0,320.0 406.0,321.0 402.0,318.0 395.0,318.0 392.0,316.0 397.0,310.0 400.0,304.0 403.0,297.0 404.0,294.0Z" fill="#edf8b1" stroke="#edf8b1" stroke-width="0.7" stroke-linejoin="round"/>
<path d="M395.9,298.8 399.4,294.7 403.5,291.8 405.3,293.5 402.9,300.6 399.4,307.6 395.9,314.1 391.2,315.3 389.4,312.4 392.9,309.4 395.9,307.1Z" fill="#c7e9b4" stroke="#c7e9b4" stroke-width="0.7" stroke-linejoin="round"/>
<path d="M384.1,299.4 388.2,298.8 388.8,296.5 392.9,296.5 395.9,298.8 395.9,307.1 392.9,309.4 389.4,312.4 386.5,309.4 383.5,305.3 382.9,302.4Z" fill="#1d91c0" stroke="#1d91c0" stroke-width="0.7" stroke-linejoin="round"/>
<path d="M434.0,304.4 442.0,305.0 450.0,310.0 454.0,314.0 453.0,322.0 456.0,328.0 451.0,331.0 444.0,332.0 438.0,327.0 433.0,324.0 431.0,321.0 432.0,314.0 434.4,313.0Z" fill="#c7e9b4" stroke="#c7e9b4" stroke-width="0.7" stroke-linejoin="round"/>
<path d="M431.0,306.0 434.0,304.4 434.4,313.0 432.0,314.0Z" fill="#c7e9b4" stroke="#c7e9b4" stroke-width="0.7" stroke-linejoin="round"/>
<path d="M392.0,317.0 395.0,318.0 402.0,318.0 406.0,321.0 409.0,320.0 413.0,324.0 413.6,331.0 418.0,332.0 413.0,337.0 414.0,348.0 402.0,347.6 390.0,347.0 391.0,340.0 394.0,332.0 392.0,324.0Z" fill="#edf8b1" stroke="#edf8b1" stroke-width="0.7" stroke-linejoin="round"/>
<path d="M418.0,332.0 424.0,335.0 429.0,336.0 428.0,331.0 429.0,325.0 433.0,324.0 438.0,327.0 440.0,332.0 437.0,339.0 432.0,343.0 427.0,345.0 422.0,350.0 417.0,349.4 414.0,348.0 413.0,337.0Z" fill="#edf8b1" stroke="#edf8b1" stroke-width="0.7" stroke-linejoin="round"/>
<path d="M439.0,327.6 441.4,329.0 442.4,338.0 444.0,342.0 442.4,345.6 441.0,341.0 439.6,335.0Z" fill="#41b6c4" stroke="#41b6c4" stroke-width="0.7" stroke-linejoin="round"/>
<path d="M442.4,332.0 451.0,331.0 456.0,329.0 457.0,338.0 454.0,344.0 447.0,350.0 442.0,356.0 444.0,362.0 441.0,367.0 437.0,371.4 435.0,370.0 435.0,360.0 438.0,353.0 437.0,346.0 432.0,343.0 437.0,339.0 440.0,333.0 441.0,341.0 442.4,345.6 444.0,342.0 443.0,336.0Z" fill="#edf8b1" stroke="#edf8b1" stroke-width="0.7" stroke-linejoin="round"/>
<path d="M422.0,350.0 427.0,345.0 432.0,343.0 437.0,346.0 438.0,353.0 435.0,359.6 429.0,361.0 424.0,356.0Z" fill="#c7e9b4" stroke="#c7e9b4" stroke-width="0.7" stroke-linejoin="round"/>
<path d="M410.0,350.0 417.0,349.4 422.0,350.0 424.0,356.0 429.0,361.0 424.0,365.0 420.0,369.0 415.0,368.0 411.0,372.4 408.0,369.2 409.0,361.0 410.0,356.0Z" fill="#41b6c4" stroke="#41b6c4" stroke-width="0.7" stroke-linejoin="round"/>
<path d="M389.6,347.6 402.0,348.0 410.0,348.4 417.0,349.0 417.0,349.6 410.0,350.0 409.0,361.0 408.0,369.2 407.0,377.0 402.0,378.0 398.0,373.0 395.0,364.0 392.0,355.0Z" fill="#7fcdbb" stroke="#7fcdbb" stroke-width="0.7" stroke-linejoin="round"/>
<path d="M402.0,378.0 407.0,377.0 408.0,369.2 411.0,372.4 415.0,368.0 420.0,369.0 424.0,365.0 429.0,361.0 435.0,359.6 435.0,370.0 437.0,371.4 434.0,378.0 429.0,385.0 420.0,391.0 412.0,392.0 406.0,393.6 402.4,391.0 403.0,385.0 400.0,380.0Z" fill="#41b6c4" stroke="#41b6c4" stroke-width="0.7" stroke-linejoin="round"/>
<path d="M423.6,379.6 426.4,378.0 427.6,380.4 425.0,382.4Z" fill="#edf8b1" stroke="#edf8b1" stroke-width="0.7" stroke-linejoin="round"/>
<path d="M432.4,371.0 434.4,370.4 434.8,373.6 432.8,374.0Z" fill="#edf8b1" stroke="#edf8b1" stroke-width="0.7" stroke-linejoin="round"/>
<path d="M462.0,359.0 464.0,352.0 468.0,345.0 473.0,340.0 477.0,334.0 479.0,340.0 477.0,348.0 474.0,358.0 470.0,367.0 465.0,369.6 462.0,366.0Z" fill="#edf8b1" stroke="#edf8b1" stroke-width="0.7" stroke-linejoin="round"/>
<path d="M492.8,355.0 494.4,354.8 494.4,356.4 493.0,356.4Z" fill="#263391" stroke="#263391" stroke-width="0.7" stroke-linejoin="round"/>
<path d="M410.4,123.3 414.2,121.7 418.3,122.9 423.3,124.2 428.3,125.4 432.5,127.5 434.2,130.0 431.7,131.2 428.3,130.4 425.0,130.0 421.7,130.8 425.0,132.9 427.5,135.0 430.0,134.0 432.5,132.9 435.0,131.7 437.0,127.5 441.7,126.7 448.3,128.3 455.0,125.8 461.7,125.0 466.0,122.0 472.0,125.0 475.0,117.0 480.0,116.0 482.0,121.0 487.0,130.0 490.0,128.0 485.0,119.0 484.0,116.0 492.0,115.0 500.0,111.0 510.0,109.0 520.0,107.0 530.0,109.0 540.0,113.0 550.0,115.0 560.0,114.0 570.0,117.0 580.0,120.0 588.0,117.0 600.0,118.0 610.0,119.0 620.0,120.6 628.0,121.0 634.0,124.0 642.0,124.0 650.0,125.0 648.0,122.6 658.0,122.0 666.0,125.0 674.0,130.0 680.0,135.0 688.0,140.0 680.0,141.0 679.0,146.0 676.0,144.0 669.0,146.0 667.0,149.0 672.0,153.0 677.0,157.0 678.0,167.4 674.0,165.0 668.0,159.0 662.0,154.0 661.0,151.0 663.0,149.0 662.0,143.0 660.0,140.6 658.0,144.0 650.0,143.0 650.0,147.0 644.0,148.0 629.0,149.0 626.0,157.0 632.0,161.0 640.0,161.0 645.0,167.0 648.0,177.0 646.0,185.0 641.0,189.0 639.0,184.0 640.0,179.0 639.0,175.0 632.0,175.0 620.0,172.0 618.0,168.0 610.0,164.0 602.0,163.0 601.0,168.0 598.0,172.0 590.0,171.0 582.0,172.0 572.0,170.0 566.0,167.0 561.0,166.0 558.0,171.0 548.0,170.0 542.0,172.0 536.0,170.0 526.0,168.0 518.0,164.0 510.0,160.0 504.0,164.0 496.0,164.0 484.0,167.0 476.0,173.0 462.0,177.0 461.7,177.5 460.0,176.7 464.2,178.3 466.7,178.3 465.0,183.3 462.5,186.7 465.0,190.8 466.7,193.3 458.3,190.8 451.7,189.2 448.3,186.7 443.3,183.3 440.0,181.7 437.5,180.0 438.3,178.3 442.5,175.8 443.3,172.5 440.0,170.0 435.0,167.5 430.8,165.0 425.8,164.2 425.0,160.0 420.8,155.8 415.8,155.0 415.8,152.5 415.0,155.0 415.8,153.8 413.3,151.7 415.0,150.0 414.2,147.5 415.8,145.4 415.8,142.5 419.2,139.2 416.7,135.8 414.2,131.7 413.3,128.8 411.7,125.8Z" fill="#263391" stroke="#263391" stroke-width="0.7" stroke-linejoin="round"/>
<path d="M494.0,101.0 502.0,100.0 510.0,103.0 506.0,104.6 498.0,103.4Z" fill="#263391" stroke="#263391" stroke-width="0.7" stroke-linejoin="round"/>
<path d="M511.0,103.4 518.0,104.0 517.0,106.0 512.0,105.4Z" fill="#263391" stroke="#263391" stroke-width="0.7" stroke-linejoin="round"/>
<path d="M575.0,110.0 582.0,109.0 588.0,111.0 584.0,113.0 578.0,112.6Z" fill="#263391" stroke="#263391" stroke-width="0.7" stroke-linejoin="round"/>
<path d="M641.0,160.0 645.0,164.0 650.0,170.0 656.0,176.0 659.0,180.6 656.0,179.0 650.0,172.0 645.0,166.0 641.6,162.0Z" fill="#263391" stroke="#263391" stroke-width="0.7" stroke-linejoin="round"/>
<path d="M463.8,180.3 461.4,178.2 459.4,175.8 457.8,172.8 459.0,170.4 461.4,168.0 465.6,166.8 470.4,168.0 474.0,169.2 480.0,168.0 485.4,168.0 482.4,165.6 482.4,162.0 487.2,159.6 492.0,158.6 496.8,157.8 500.4,159.0 504.0,160.2 511.2,160.8 518.0,164.0 526.0,168.0 536.0,170.0 542.0,172.0 539.0,175.0 534.0,178.0 533.0,183.0 531.0,188.0 524.0,189.0 518.0,189.0 513.0,191.0 512.0,195.0 509.0,198.0 505.0,195.0 500.0,189.0 493.0,187.0 486.0,184.0 480.0,183.0 479.0,189.0 480.0,194.0 475.0,193.4 470.0,189.0 467.0,185.0 469.0,182.0Z" fill="#24479d" stroke="#24479d" stroke-width="0.7" stroke-linejoin="round"/>
<path d="M542.0,172.0 548.0,170.0 558.0,171.0 561.0,166.0 566.0,167.0 572.0,170.0 582.0,172.0 590.0,171.0 598.0,172.0 601.0,175.0 609.0,178.0 604.0,181.0 598.0,183.0 596.0,188.0 586.0,192.0 578.0,189.0 568.0,189.0 560.0,186.0 552.0,182.0 546.0,177.0Z" fill="#081d58" stroke="#081d58" stroke-width="0.7" stroke-linejoin="round"/>
<path d="M533.0,183.0 534.0,178.0 539.0,175.0 542.0,172.0 546.0,177.0 552.0,182.0 560.0,186.0 568.0,189.0 578.0,189.0 586.0,192.0 596.0,188.0 598.0,183.0 604.0,181.0 609.0,178.0 601.0,175.0 598.0,172.0 601.0,168.0 602.0,163.0 610.0,164.0 618.0,168.0 620.0,172.0 632.0,175.0 639.0,175.0 640.0,179.0 639.0,184.0 640.0,189.0 638.0,191.0 633.0,194.0 629.0,196.0 625.0,195.0 623.0,197.0 618.0,200.0 620.0,203.0 625.0,203.0 629.0,205.0 626.0,209.0 630.0,213.0 634.0,219.0 636.0,226.0 634.0,234.0 630.0,240.0 625.0,244.0 620.0,246.0 615.0,247.0 613.0,246.0 609.0,247.0 606.0,246.0 602.0,241.0 597.0,243.0 602.0,241.0 596.0,243.0 591.0,244.0 588.0,240.0 586.0,234.0 582.0,229.0 580.0,225.0 575.0,226.0 569.0,228.4 563.0,229.0 561.0,229.0 554.0,226.0 546.0,222.0 542.0,223.0 540.0,220.0 537.0,215.0 534.0,210.0 531.0,207.0 526.0,204.0 522.0,198.0 525.0,195.0 531.0,193.0Z" fill="#172976" stroke="#172976" stroke-width="0.7" stroke-linejoin="round"/>
<path d="M611.6,249.6 615.0,249.0 616.0,252.0 613.6,254.0 611.6,252.4Z" fill="#172976" stroke="#172976" stroke-width="0.7" stroke-linejoin="round"/>
<path d="M636.4,237.0 638.6,235.6 639.0,240.0 637.4,244.0 636.0,241.0Z" fill="#24479d" stroke="#24479d" stroke-width="0.7" stroke-linejoin="round"/>
<path d="M637.0,202.0 641.0,201.0 645.0,205.0 645.6,209.0 641.6,211.4 639.0,208.0Z" fill="#263391" stroke="#263391" stroke-width="0.7" stroke-linejoin="round"/>
<path d="M659.0,185.0 663.0,183.0 669.0,187.0 665.0,191.0 660.4,190.0Z" fill="#225ea8" stroke="#225ea8" stroke-width="0.7" stroke-linejoin="round"/>
<path d="M662.0,193.0 666.0,194.0 669.0,201.0 670.0,208.0 667.0,211.0 663.0,210.0 660.0,211.6 658.0,211.0 654.0,212.4 650.0,215.0 652.4,213.6 654.4,218.0 656.0,214.4 660.0,214.4 663.0,212.0 662.4,206.0 664.4,201.0 663.0,197.0Z" fill="#225ea8" stroke="#225ea8" stroke-width="0.7" stroke-linejoin="round"/>
<path d="M649.0,215.0 652.4,213.6 654.4,219.0 652.4,220.4 650.0,218.0Z" fill="#225ea8" stroke="#225ea8" stroke-width="0.7" stroke-linejoin="round"/>
<path d="M480.0,183.0 486.0,184.0 493.0,187.0 500.0,189.0 505.0,195.0 509.0,198.0 508.0,202.0 503.0,200.0 498.0,196.0 490.0,193.0 485.0,189.0 480.0,190.0 479.0,189.0Z" fill="#24479d" stroke="#24479d" stroke-width="0.7" stroke-linejoin="round"/>
<path d="M477.0,192.0 480.0,190.0 485.0,189.0 490.0,193.0 498.0,196.0 503.0,200.0 506.0,203.0 500.0,207.0 494.0,206.0 488.0,203.0 482.0,202.0 477.6,204.0 477.0,199.0Z" fill="#1d91c0" stroke="#1d91c0" stroke-width="0.7" stroke-linejoin="round"/>
<path d="M513.0,191.0 518.0,189.0 524.0,189.0 531.0,188.0 531.0,193.0 525.0,195.0 520.0,195.0 514.0,194.4Z" fill="#1d91c0" stroke="#1d91c0" stroke-width="0.7" stroke-linejoin="round"/>
<path d="M510.0,197.0 514.0,194.4 520.0,195.0 525.2,194.8 523.2,198.0 520.0,201.0 513.0,202.0 509.0,201.0Z" fill="#1d91c0" stroke="#1d91c0" stroke-width="0.7" stroke-linejoin="round"/>
<path d="M456.0,196.0 462.0,200.0 467.0,197.0 470.0,200.0 473.0,203.0 478.0,203.0 482.0,202.0 488.0,203.0 494.0,206.0 500.0,207.0 498.0,210.0 497.0,216.0 500.0,223.0 504.0,230.0 501.0,235.0 494.0,233.2 490.4,230.4 487.6,231.6 484.2,233.0 481.6,231.4 477.6,226.4 474.4,221.6 470.4,218.4 465.0,212.0 463.0,207.0 460.0,206.0 457.0,202.0Z" fill="#1d91c0" stroke="#1d91c0" stroke-width="0.7" stroke-linejoin="round"/>
<path d="M500.0,207.0 506.0,203.0 509.0,201.0 513.0,202.0 520.0,200.6 522.8,198.6 526.0,204.0 520.0,206.0 519.0,210.0 514.0,213.0 512.0,219.0 506.0,223.0 500.0,223.0 497.0,216.0 498.0,210.0Z" fill="#7fcdbb" stroke="#7fcdbb" stroke-width="0.7" stroke-linejoin="round"/>
<path d="M526.0,204.4 531.0,207.0 534.0,210.0 529.0,212.0 529.0,219.0 524.0,226.0 520.0,230.0 521.0,235.0 519.0,238.0 514.0,234.0 510.0,233.0 504.0,235.0 504.0,230.0 500.0,223.0 506.0,223.0 512.0,219.0 514.0,213.0 519.0,210.0 520.0,206.0Z" fill="#7fcdbb" stroke="#7fcdbb" stroke-width="0.7" stroke-linejoin="round"/>
<path d="M559.7,228.4 580.3,227.7 584.4,231.7 583.5,237.6 589.1,243.5 594.4,244.9 590.3,250.3 579.7,250.3 566.8,238.5Z" fill="#41b6c4" stroke="#41b6c4" stroke-width="0.7" stroke-linejoin="round"/>
<path d="M529.0,212.0 534.0,210.0 537.0,215.0 540.0,220.0 542.0,223.0 544.0,225.6 552.0,229.0 560.0,232.0 562.0,232.0 564.0,231.6 569.6,231.0 569.0,228.4 575.0,226.0 580.0,225.0 583.0,229.0 579.0,234.0 576.0,240.0 573.0,242.0 572.0,238.0 569.0,240.0 569.0,233.0 563.0,234.0 564.0,240.0 566.0,244.4 564.0,242.0 560.0,248.0 554.0,254.0 549.0,260.0 548.0,268.0 546.0,275.0 543.0,280.0 539.0,273.0 535.0,264.0 530.0,253.0 529.0,247.0 524.0,246.0 519.0,239.0 521.0,235.0 520.0,230.0 524.0,226.0 529.0,219.0Z" fill="#41b6c4" stroke="#41b6c4" stroke-width="0.7" stroke-linejoin="round"/>
<path d="M542.0,223.0 546.0,222.0 554.0,226.0 561.0,229.0 560.0,232.0 552.0,229.0 544.0,225.6Z" fill="#1d91c0" stroke="#1d91c0" stroke-width="0.7" stroke-linejoin="round"/>
<path d="M563.0,229.0 569.0,228.4 569.6,231.0 564.0,231.6Z" fill="#41b6c4" stroke="#41b6c4" stroke-width="0.7" stroke-linejoin="round"/>
<path d="M563.0,234.0 569.0,233.0 571.0,238.0 570.0,244.0 566.0,244.4 564.0,240.0Z" fill="#7fcdbb" stroke="#7fcdbb" stroke-width="0.7" stroke-linejoin="round"/>
<path d="M548.0,278.0 551.0,276.0 553.0,282.0 551.0,286.0 548.0,284.0Z" fill="#7fcdbb" stroke="#7fcdbb" stroke-width="0.7" stroke-linejoin="round"/>
<path d="M575.0,227.0 580.0,225.0 582.0,229.0 586.0,234.0 588.0,240.0 591.0,244.0 588.0,249.0 586.0,253.0 588.0,260.0 590.0,268.0 591.0,276.0 589.0,274.0 588.0,266.0 585.0,257.0 582.0,260.0 579.0,257.0 578.0,250.0 574.0,244.0 573.0,242.0 576.0,240.0 579.0,234.0Z" fill="#41b6c4" stroke="#41b6c4" stroke-width="0.7" stroke-linejoin="round"/>
<path d="M588.0,249.0 592.0,248.0 598.0,252.0 603.0,255.0 605.0,260.0 604.0,264.0 600.0,266.0 597.0,268.0 594.0,266.0 592.0,270.0 591.0,276.0 593.0,281.0 598.0,286.0 596.0,287.4 592.0,282.0 590.0,276.0 590.0,268.0 588.0,260.0 586.0,253.0Z" fill="#7fcdbb" stroke="#7fcdbb" stroke-width="0.7" stroke-linejoin="round"/>
<path d="M591.0,244.0 596.0,243.0 600.0,248.0 604.0,254.0 609.0,260.0 608.0,264.0 604.4,264.0 605.0,260.0 603.0,255.0 598.0,252.0 592.0,248.0Z" fill="#41b6c4" stroke="#41b6c4" stroke-width="0.7" stroke-linejoin="round"/>
<path d="M596.0,243.0 602.0,241.0 608.0,244.0 605.0,249.0 609.0,255.0 613.0,260.0 615.0,267.0 613.0,273.0 607.0,279.0 605.0,276.0 610.0,270.0 611.0,265.0 609.0,260.0 604.0,254.0 600.0,248.0Z" fill="#225ea8" stroke="#225ea8" stroke-width="0.7" stroke-linejoin="round"/>
<path d="M600.0,266.0 604.0,264.0 608.0,264.0 611.0,265.0 610.0,270.0 606.0,274.0 601.0,272.0Z" fill="#7fcdbb" stroke="#7fcdbb" stroke-width="0.7" stroke-linejoin="round"/>
<path d="M596.0,287.0 600.0,286.0 603.0,291.0 605.0,298.0 602.0,297.0 598.0,292.0Z" fill="#225ea8" stroke="#225ea8" stroke-width="0.7" stroke-linejoin="round"/>
<path d="M458.0,221.0 469.2,224.8 470.0,227.4 473.4,230.8 476.6,235.0 479.4,238.4 484.2,239.4 485.6,241.0 488.6,243.6 485.8,248.4 482.4,253.4 476.6,252.4 468.4,254.2 460.8,256.6 456.0,250.0Z" fill="#24479d" stroke="#24479d" stroke-width="0.7" stroke-linejoin="round"/>
<path d="M484.2,239.4 488.4,236.6 490.8,234.2 491.6,235.0 489.2,238.0 488.6,243.6 485.6,241.0Z" fill="#24479d" stroke="#24479d" stroke-width="0.7" stroke-linejoin="round"/>
<path d="M489.2,238.0 491.6,234.6 495.0,238.4 498.4,243.4 495.8,249.2 493.4,251.6 489.2,255.0 484.2,257.5 482.5,253.4 485.8,248.4 488.6,243.6Z" fill="#1d91c0" stroke="#1d91c0" stroke-width="0.7" stroke-linejoin="round"/>
<path d="M460.8,256.6 468.4,254.2 476.6,252.5 482.5,253.4 484.2,257.5 480.0,260.8 473.4,264.2 466.6,266.6 461.6,268.4 460.0,263.4Z" fill="#c7e9b4" stroke="#c7e9b4" stroke-width="0.7" stroke-linejoin="round"/>
<path d="M584.0,288.4 589.0,288.0 597.0,296.0 604.0,303.0 609.0,310.0 609.0,316.0 606.0,317.0 600.0,310.0 593.0,300.0 587.0,293.0Z" fill="#41b6c4" stroke="#41b6c4" stroke-width="0.7" stroke-linejoin="round"/>
<path d="M608.0,318.0 614.0,318.0 622.0,320.0 630.0,323.0 629.0,325.0 620.0,323.6 612.0,321.6Z" fill="#41b6c4" stroke="#41b6c4" stroke-width="0.7" stroke-linejoin="round"/>
<path d="M634.0,324.0 638.0,323.6 638.4,325.6 634.4,326.0Z" fill="#41b6c4" stroke="#41b6c4" stroke-width="0.7" stroke-linejoin="round"/>
<path d="M641.0,324.0 647.0,323.6 647.0,325.2 641.4,326.0Z" fill="#41b6c4" stroke="#41b6c4" stroke-width="0.7" stroke-linejoin="round"/>
<path d="M649.0,328.0 654.0,325.0 657.6,324.0 655.0,327.0 650.0,329.6Z" fill="#41b6c4" stroke="#41b6c4" stroke-width="0.7" stroke-linejoin="round"/>
<path d="M616.4,300.0 620.0,299.0 625.0,300.0 630.0,296.0 634.0,291.0 638.0,292.0 637.0,298.0 639.0,300.0 636.0,304.0 634.0,309.0 630.0,312.0 625.0,311.0 620.0,309.0 617.0,305.0Z" fill="#41b6c4" stroke="#41b6c4" stroke-width="0.7" stroke-linejoin="round"/>
<path d="M618.0,297.0 623.0,295.0 628.0,291.0 632.0,285.0 636.0,284.0 639.6,288.0 638.0,292.0 634.0,291.0 630.0,296.0 625.0,300.0 620.0,299.0Z" fill="#225ea8" stroke="#225ea8" stroke-width="0.7" stroke-linejoin="round"/>
<path d="M642.0,301.0 647.0,299.6 653.0,299.0 652.0,301.0 647.0,303.0 645.0,306.0 649.0,309.0 647.0,311.0 648.0,315.0 646.0,315.0 644.0,310.0 642.0,313.0 642.4,317.0 640.0,317.0 639.4,310.0 640.4,305.0Z" fill="#41b6c4" stroke="#41b6c4" stroke-width="0.7" stroke-linejoin="round"/>
<path d="M659.4,298.0 661.6,297.0 662.4,302.0 660.4,303.6Z" fill="#41b6c4" stroke="#41b6c4" stroke-width="0.7" stroke-linejoin="round"/>
<path d="M660.4,310.0 665.6,309.6 665.6,311.6 661.0,311.4Z" fill="#41b6c4" stroke="#41b6c4" stroke-width="0.7" stroke-linejoin="round"/>
<path d="M656.0,310.4 659.0,310.0 659.0,311.6 656.4,311.6Z" fill="#41b6c4" stroke="#41b6c4" stroke-width="0.7" stroke-linejoin="round"/>
<path d="M667.6,304.0 672.0,303.0 675.0,306.0 674.0,309.0 678.0,310.0 682.0,307.0 687.0,306.4 690.4,308.4 689.6,325.0 686.0,323.0 683.0,324.0 685.0,320.0 681.0,317.0 676.0,313.0 672.0,311.0 669.0,307.0Z" fill="#41b6c4" stroke="#41b6c4" stroke-width="0.7" stroke-linejoin="round"/>
<path d="M690.4,308.4 698.0,312.0 703.0,317.0 707.0,320.0 706.0,323.0 710.0,328.0 711.6,330.0 706.0,329.0 700.0,326.0 695.0,327.0 689.6,325.0Z" fill="#7fcdbb" stroke="#7fcdbb" stroke-width="0.7" stroke-linejoin="round"/>
<path d="M707.0,317.0 712.0,315.0 717.0,310.0 719.0,312.0 715.0,317.0 710.0,319.0Z" fill="#7fcdbb" stroke="#7fcdbb" stroke-width="0.7" stroke-linejoin="round"/>
<path d="M722.0,316.0 725.0,319.0 728.0,322.0 726.4,322.4 723.0,319.0Z" fill="#c7e9b4" stroke="#c7e9b4" stroke-width="0.7" stroke-linejoin="round"/>
<path d="M731.0,323.0 736.0,327.0 738.0,330.0 735.0,329.0Z" fill="#c7e9b4" stroke="#c7e9b4" stroke-width="0.7" stroke-linejoin="round"/>
<path d="M639.0,255.0 642.0,253.0 644.0,256.0 643.6,261.0 646.0,265.0 649.0,268.0 647.0,269.0 643.0,266.0 640.0,262.0 638.6,258.0Z" fill="#41b6c4" stroke="#41b6c4" stroke-width="0.7" stroke-linejoin="round"/>
<path d="M644.0,269.0 650.0,270.0 653.0,274.0 650.0,275.0 646.0,273.0Z" fill="#41b6c4" stroke="#41b6c4" stroke-width="0.7" stroke-linejoin="round"/>
<path d="M649.0,279.0 654.0,277.0 656.4,282.0 655.0,287.0 651.0,286.0 647.0,283.0Z" fill="#41b6c4" stroke="#41b6c4" stroke-width="0.7" stroke-linejoin="round"/>
<path d="M635.0,279.0 639.0,273.0 639.8,274.0 636.4,280.0Z" fill="#41b6c4" stroke="#41b6c4" stroke-width="0.7" stroke-linejoin="round"/>
<path d="M619.0,368.0 621.0,361.0 628.0,357.0 636.0,354.0 644.0,349.0 647.0,345.0 653.0,342.0 658.0,339.0 662.0,340.0 664.0,336.0 669.0,332.0 674.0,334.0 679.0,334.0 677.0,340.0 682.0,345.0 687.0,348.0 690.0,339.0 692.0,331.0 695.0,339.0 698.0,346.0 702.0,354.0 706.0,361.0 708.0,368.0 708.0,376.0 704.0,384.0 700.0,390.0 694.0,396.0 690.0,400.0 686.0,402.0 680.0,404.0 675.0,403.0 670.0,401.0 667.0,396.0 668.0,391.0 665.0,393.0 663.0,394.0 660.0,389.0 655.0,386.0 648.0,387.0 641.0,388.0 634.0,390.0 627.0,393.0 621.0,394.0 616.0,392.4 618.0,388.0 620.0,380.0 619.0,374.0Z" fill="#263391" stroke="#263391" stroke-width="0.7" stroke-linejoin="round"/>
<path d="M672.0,410.0 679.0,409.0 677.0,414.0 671.0,417.0 670.0,414.0Z" fill="#263391" stroke="#263391" stroke-width="0.7" stroke-linejoin="round"/>
<path d="M742.0,393.0 744.4,395.0 745.0,400.0 749.4,401.0 746.0,405.0 741.0,408.0 736.0,411.0 735.6,409.0 739.0,405.0 742.0,400.0Z" fill="#24479d" stroke="#24479d" stroke-width="0.7" stroke-linejoin="round"/>
<path d="M708.0,422.4 714.0,419.0 721.0,415.6 728.0,411.6 732.4,409.0 734.0,411.0 730.0,414.4 723.0,418.0 716.0,422.0 711.0,424.0Z" fill="#24479d" stroke="#24479d" stroke-width="0.7" stroke-linejoin="round"/>
<path d="M738.0,355.0 739.6,354.4 743.6,360.0 742.0,360.6Z" fill="#24479d" stroke="#24479d" stroke-width="0.7" stroke-linejoin="round"/>
<path d="M747.0,341.0 748.2,341.0 748.8,345.0 747.6,345.0Z" fill="#41b6c4" stroke="#41b6c4" stroke-width="0.7" stroke-linejoin="round"/>
<path d="M770.0,348.0 773.0,347.0 773.0,349.0 770.4,349.6Z" fill="#1d91c0" stroke="#1d91c0" stroke-width="0.7" stroke-linejoin="round"/>
<path d="M774.0,345.6 777.0,344.4 776.6,346.0Z" fill="#1d91c0" stroke="#1d91c0" stroke-width="0.7" stroke-linejoin="round"/>
<path d="M449.4,189.0 453.6,189.0 458.4,190.8 460.2,193.2 456.0,193.5 451.8,192.3Z" fill="#24479d" stroke="#24479d" stroke-width="0.7" stroke-linejoin="round"/>
<path d="M456.0,193.5 460.2,193.2 463.2,192.3 469.0,196.2 469.2,199.8 465.6,198.0 462.6,197.4 459.6,196.2 458.4,198.0 457.2,195.0Z" fill="#225ea8" stroke="#225ea8" stroke-width="0.7" stroke-linejoin="round"/>
<path d="M79.0,126.0 90.0,122.4 104.0,120.0 114.0,121.0 125.0,124.0 101.6,144.4 106.0,146.4 110.0,147.6 111.4,156.0 109.4,158.0 107.4,151.0 102.0,147.4 96.0,144.4 89.0,143.6 80.0,147.4 73.0,150.6 56.0,156.2 41.0,159.4 55.0,154.4 68.0,149.6 63.0,149.6 58.0,148.4 56.6,144.4 60.0,141.2 68.0,138.4 77.6,135.6 67.0,134.4 68.0,131.6 77.0,130.6Z" fill="#172976" stroke="#3c4a5c" stroke-opacity="0.55" stroke-width="0.4" stroke-linejoin="round"/>
<path d="M45.0,133.0 56.0,125.6 60.0,130.0 64.4,131.0 54.0,135.2Z" fill="#263391" stroke="#3c4a5c" stroke-opacity="0.55" stroke-width="0.4" stroke-linejoin="round"/>
<path d="M125.0,124.0 134.0,124.4 142.0,123.0 150.0,122.4 158.0,124.0 166.0,126.0 174.0,127.0 182.0,127.0 190.0,128.0 200.0,130.0 166.1,127.1 175.3,127.7 186.1,126.2 195.0,126.7 200.0,124.2 204.2,120.0 208.3,119.2 210.0,122.5 209.2,125.0 211.7,126.7 215.0,125.0 219.2,123.3 223.3,124.2 224.2,125.8 220.8,128.3 217.5,130.0 213.3,130.8 210.0,132.5 206.7,134.6 206.0,136.0 198.3,138.3 190.7,142.1 185.3,147.5 186.8,151.3 190.7,152.9 196.8,155.9 201.4,158.2 200.6,162.1 201.4,166.7 204.5,165.9 206.0,162.1 207.5,157.5 212.9,154.4 216.0,149.8 219.0,143.7 221.3,140.6 227.5,139.8 232.1,142.1 233.6,149.0 236.7,148.3 241.3,145.2 243.6,148.3 245.4,154.2 250.0,158.3 252.1,162.5 250.8,166.2 246.7,167.9 241.7,170.0 236.7,170.4 231.7,170.4 227.5,171.7 223.3,173.8 219.2,176.7 216.7,178.8 220.0,186.0 223.0,182.0 222.0,178.0 218.0,179.0 212.0,184.0 204.0,186.0 196.0,189.0 187.0,192.0 186.0,190.0 190.0,185.0 189.0,180.0 184.0,176.4 174.0,175.0 169.0,173.6 111.4,173.4 110.0,170.4 108.6,166.4 107.4,165.0 109.0,159.0 111.4,156.0 110.0,147.6 106.0,146.4 101.6,144.4Z" fill="#263391" stroke="#3c4a5c" stroke-opacity="0.55" stroke-width="0.4" stroke-linejoin="round"/>
<path d="M164.6,118.4 172.3,115.3 183.0,114.5 190.7,116.8 192.5,120.7 187.6,124.0 178.4,125.3 169.2,126.0 165.4,123.0Z" fill="#263391" stroke="#3c4a5c" stroke-opacity="0.55" stroke-width="0.4" stroke-linejoin="round"/>
<path d="M156.9,116.1 163.1,114.2 167.7,116.4 166.4,119.9 160.0,120.7 156.9,119.1Z" fill="#263391" stroke="#3c4a5c" stroke-opacity="0.55" stroke-width="0.4" stroke-linejoin="round"/>
<path d="M218.8,178.2 223.3,175.0 227.5,173.8 230.4,174.2 228.8,176.7 229.2,179.2 231.7,180.8 235.0,180.0 237.9,178.8 237.5,181.2 233.3,182.9 228.3,183.8 225.0,185.8 223.3,186.7 223.8,184.6 226.7,182.9 224.2,182.1 222.5,182.5 222.1,178.3Z" fill="#263391" stroke="#3c4a5c" stroke-opacity="0.55" stroke-width="0.4" stroke-linejoin="round"/>
<path d="M240.8,175.8 244.2,172.5 248.3,167.9 250.0,170.0 251.7,172.5 253.8,172.5 254.2,175.8 252.9,179.2 250.8,177.5 248.3,178.3 246.7,176.7 243.3,176.7Z" fill="#263391" stroke="#3c4a5c" stroke-opacity="0.55" stroke-width="0.4" stroke-linejoin="round"/>
<path d="M214.2,119.6 216.7,116.7 221.7,115.0 226.7,115.4 231.7,115.0 236.7,116.7 241.7,117.9 245.0,120.0 248.3,122.1 249.2,124.2 247.5,125.0 251.7,127.5 254.6,129.6 252.5,131.7 250.0,132.9 247.5,131.7 245.8,133.3 245.0,136.7 241.7,139.2 238.3,140.0 235.0,138.8 230.8,136.7 226.7,135.8 223.3,135.0 225.0,133.3 230.0,132.9 234.2,131.7 236.7,129.2 236.2,126.7 233.3,125.0 230.8,122.9 226.7,122.5 223.3,123.3 220.0,122.5 216.7,121.7Z" fill="#263391" stroke="#3c4a5c" stroke-opacity="0.55" stroke-width="0.4" stroke-linejoin="round"/>
<path d="M207.9,135.0 211.7,132.1 215.0,134.2 217.9,136.7 215.0,137.5 210.8,137.1 208.3,137.9Z" fill="#263391" stroke="#3c4a5c" stroke-opacity="0.55" stroke-width="0.4" stroke-linejoin="round"/>
<path d="M222.5,102.5 226.7,100.8 233.3,100.4 240.0,99.2 248.3,97.9 256.7,97.3 269.2,97.1 275.8,97.7 270.0,98.8 263.3,100.4 256.7,102.3 253.3,102.9 246.7,105.8 240.0,108.3 236.7,109.2 231.7,108.8 226.7,108.3 229.2,106.7 235.0,105.8 236.7,104.2 233.3,103.3 228.3,104.2 224.2,104.2Z" fill="#263391" stroke="#3c4a5c" stroke-opacity="0.55" stroke-width="0.4" stroke-linejoin="round"/>
<path d="M217.5,110.4 220.0,108.8 225.0,109.6 230.0,110.4 236.7,110.8 235.0,112.5 229.2,112.9 223.3,112.5 219.2,112.1Z" fill="#263391" stroke="#3c4a5c" stroke-opacity="0.55" stroke-width="0.4" stroke-linejoin="round"/>
<path d="M173.8,109.2 181.5,106.9 190.7,108.4 196.8,110.7 190.7,112.5 183.0,111.8 175.3,111.0Z" fill="#263391" stroke="#3c4a5c" stroke-opacity="0.55" stroke-width="0.4" stroke-linejoin="round"/>
<path d="M191.7,106.2 198.3,104.2 199.2,105.0 193.3,107.1Z" fill="#263391" stroke="#3c4a5c" stroke-opacity="0.55" stroke-width="0.4" stroke-linejoin="round"/>
<path d="M190.0,110.8 195.0,109.2 198.3,110.4 195.0,112.1 190.0,112.5Z" fill="#263391" stroke="#3c4a5c" stroke-opacity="0.55" stroke-width="0.4" stroke-linejoin="round"/>
<path d="M203.3,110.0 208.3,108.8 211.7,109.6 209.2,111.7 205.0,111.7Z" fill="#263391" stroke="#3c4a5c" stroke-opacity="0.55" stroke-width="0.4" stroke-linejoin="round"/>
<path d="M206.7,104.2 210.8,103.3 213.3,105.0 209.2,105.8Z" fill="#263391" stroke="#3c4a5c" stroke-opacity="0.55" stroke-width="0.4" stroke-linejoin="round"/>
<path d="M215.8,105.0 218.3,104.6 220.0,106.2 216.7,106.7Z" fill="#263391" stroke="#3c4a5c" stroke-opacity="0.55" stroke-width="0.4" stroke-linejoin="round"/>
<path d="M210.8,111.2 214.2,110.8 215.0,112.1 211.7,112.9Z" fill="#263391" stroke="#3c4a5c" stroke-opacity="0.55" stroke-width="0.4" stroke-linejoin="round"/>
<path d="M197.1,116.7 201.7,114.6 205.8,115.4 204.2,117.9 200.0,119.6 197.5,118.8Z" fill="#263391" stroke="#3c4a5c" stroke-opacity="0.55" stroke-width="0.4" stroke-linejoin="round"/>
<path d="M207.9,115.4 212.5,113.8 217.5,114.2 215.0,115.8 210.0,117.9 207.5,117.1Z" fill="#263391" stroke="#3c4a5c" stroke-opacity="0.55" stroke-width="0.4" stroke-linejoin="round"/>
<path d="M194.2,123.8 199.2,122.5 200.8,124.2 198.3,125.8 195.0,125.4Z" fill="#263391" stroke="#3c4a5c" stroke-opacity="0.55" stroke-width="0.4" stroke-linejoin="round"/>
<path d="M252.4,105.3 257.1,102.9 265.3,100.6 275.9,98.5 288.8,97.3 299.4,96.8 311.2,96.5 322.9,96.1 332.4,97.1 339.4,98.5 344.7,99.6 340.6,100.4 335.9,101.2 334.1,103.5 333.5,107.6 331.2,110.6 331.8,113.5 327.6,116.5 325.3,119.4 320.6,122.9 315.9,125.3 308.8,127.6 301.8,130.0 295.9,131.8 291.2,134.7 287.6,139.4 284.1,143.5 281.2,145.3 277.6,144.7 273.5,142.4 271.2,138.2 269.4,133.5 268.8,130.0 271.8,126.5 275.3,123.5 272.4,122.4 271.2,118.8 273.5,115.3 271.8,111.8 267.6,108.8 261.8,107.6 255.9,107.6Z" fill="url(#hatch)" stroke="#d4d4d4" stroke-width="0.5"/>
<path d="M320.0,132.4 323.5,130.6 327.6,131.4 332.4,130.6 337.1,130.6 338.0,133.5 334.7,135.9 330.0,137.1 325.3,136.5 321.8,135.3 322.4,133.8Z" fill="#081d58" stroke="#3c4a5c" stroke-opacity="0.55" stroke-width="0.4" stroke-linejoin="round"/>
<path d="M5.5,247.5 7.5,248.0 7.0,250.0 5.0,249.5Z" fill="#172976" stroke="#3c4a5c" stroke-opacity="0.55" stroke-width="0.4" stroke-linejoin="round"/>
<path d="M2.0,245.5 3.5,246.0 3.0,247.2 1.8,246.8Z" fill="#172976" stroke="#3c4a5c" stroke-opacity="0.55" stroke-width="0.4" stroke-linejoin="round"/>
<path d="M103.4,169.0 107.4,169.6 111.4,175.0 110.0,177.0 106.6,173.0Z" fill="#263391" stroke="#3c4a5c" stroke-opacity="0.55" stroke-width="0.4" stroke-linejoin="round"/>
<path d="M111.4,173.4 169.0,173.6 174.0,175.0 184.0,176.4 189.0,180.0 190.0,185.0 186.0,190.0 187.0,192.0 196.0,189.0 204.0,186.0 212.0,184.0 218.0,179.0 222.0,178.0 223.0,182.0 220.0,186.0 216.0,188.0 212.0,193.0 206.0,195.0 200.0,199.0 198.0,203.0 195.0,209.0 188.0,214.0 182.0,219.0 179.0,223.0 182.0,230.0 181.0,235.6 178.0,235.0 176.0,228.0 174.0,223.0 168.0,222.0 162.0,224.0 156.0,225.0 149.0,226.0 144.0,230.0 140.0,234.0 138.0,228.0 134.0,224.0 131.0,225.0 127.0,220.0 120.0,218.4 118.0,220.0 110.0,218.0 102.6,216.4 100.0,211.6 96.6,206.4 95.6,197.0 98.0,190.4 102.6,185.0 108.6,177.6Z" fill="#172976" stroke="#3c4a5c" stroke-opacity="0.55" stroke-width="0.4" stroke-linejoin="round"/>
<path d="M110.0,218.0 118.0,220.0 120.0,218.4 127.0,220.0 131.0,225.0 134.0,224.0 138.0,228.0 140.0,234.0 139.6,242.0 141.0,248.0 146.0,253.0 152.0,252.0 156.0,247.0 163.0,245.6 164.0,248.0 160.0,254.0 155.0,255.6 153.0,256.0 150.0,261.0 146.0,260.0 140.0,260.0 132.0,256.0 125.0,251.0 121.0,245.0 118.0,238.0 113.0,230.0 110.0,222.0Z" fill="#24479d" stroke="#3c4a5c" stroke-opacity="0.55" stroke-width="0.4" stroke-linejoin="round"/>
<path d="M103.0,216.0 107.4,217.2 108.0,224.0 111.0,233.0 113.2,241.2 110.0,239.0 105.6,230.0 103.6,222.4Z" fill="#24479d" stroke="#3c4a5c" stroke-opacity="0.55" stroke-width="0.4" stroke-linejoin="round"/>
<path d="M150.0,262.1 152.9,256.8 157.1,256.2 158.2,259.7 156.5,262.1 157.6,264.4 154.1,265.6 151.2,264.4Z" fill="#41b6c4" stroke="#3c4a5c" stroke-opacity="0.55" stroke-width="0.4" stroke-linejoin="round"/>
<path d="M157.3,255.6 159.4,253.8 159.2,258.5 158.2,259.7Z" fill="#41b6c4" stroke="#3c4a5c" stroke-opacity="0.55" stroke-width="0.4" stroke-linejoin="round"/>
<path d="M157.1,262.6 160.6,260.3 167.1,260.3 170.6,262.6 167.6,263.8 164.1,265.6 161.8,267.4 159.4,266.8 157.6,264.4Z" fill="#7fcdbb" stroke="#3c4a5c" stroke-opacity="0.55" stroke-width="0.4" stroke-linejoin="round"/>
<path d="M154.7,265.6 157.6,264.6 159.6,266.8 157.6,267.7Z" fill="#41b6c4" stroke="#3c4a5c" stroke-opacity="0.55" stroke-width="0.4" stroke-linejoin="round"/>
<path d="M160.8,267.9 161.8,267.4 164.1,265.6 167.6,263.8 170.6,262.6 170.0,266.8 168.2,272.6 164.7,273.2 162.4,270.3Z" fill="#41b6c4" stroke="#3c4a5c" stroke-opacity="0.55" stroke-width="0.4" stroke-linejoin="round"/>
<path d="M163.5,273.6 168.2,272.6 170.0,276.2 171.2,278.5 168.8,277.9 165.3,276.2Z" fill="#1d91c0" stroke="#3c4a5c" stroke-opacity="0.55" stroke-width="0.4" stroke-linejoin="round"/>
<path d="M170.6,278.5 170.0,276.4 172.4,277.9 175.3,279.1 177.6,277.4 180.6,278.5 181.8,281.5 180.0,282.1 178.2,279.7 175.3,281.5 172.9,280.9Z" fill="#24479d" stroke="#3c4a5c" stroke-opacity="0.55" stroke-width="0.4" stroke-linejoin="round"/>
<path d="M168.8,243.8 171.8,241.8 175.9,241.1 180.6,242.6 184.7,245.0 188.8,247.0 192.4,248.5 190.6,250.1 186.5,249.1 183.5,247.0 179.4,245.0 175.3,243.8 171.2,244.4Z" fill="#1d91c0" stroke="#3c4a5c" stroke-opacity="0.55" stroke-width="0.4" stroke-linejoin="round"/>
<path d="M191.2,252.9 194.1,252.4 195.3,250.1 197.6,249.7 198.2,255.0 194.7,254.4 191.8,254.1Z" fill="#edf8b1" stroke="#3c4a5c" stroke-opacity="0.55" stroke-width="0.4" stroke-linejoin="round"/>
<path d="M197.6,249.7 200.6,249.7 205.3,252.6 202.9,254.4 198.2,255.0Z" fill="#1d91c0" stroke="#3c4a5c" stroke-opacity="0.55" stroke-width="0.4" stroke-linejoin="round"/>
<path d="M182.4,253.6 185.3,252.9 187.4,254.4 184.7,255.4Z" fill="#225ea8" stroke="#3c4a5c" stroke-opacity="0.55" stroke-width="0.4" stroke-linejoin="round"/>
<path d="M207.6,253.1 211.8,252.9 211.8,254.5 207.9,254.8Z" fill="url(#hatch)" stroke="#d4d4d4" stroke-width="0.5"/>
<path d="M184.1,231.5 187.6,231.5 188.2,233.2 185.3,232.6Z" fill="#24479d" stroke="#3c4a5c" stroke-opacity="0.55" stroke-width="0.4" stroke-linejoin="round"/>
<path d="M184.7,236.2 186.2,235.9 186.2,239.1 185.1,239.1Z" fill="#24479d" stroke="#3c4a5c" stroke-opacity="0.55" stroke-width="0.4" stroke-linejoin="round"/>
<path d="M218.2,273.8 220.6,273.2 220.6,275.6 218.5,275.6Z" fill="#1d91c0" stroke="#3c4a5c" stroke-opacity="0.55" stroke-width="0.4" stroke-linejoin="round"/>
<path d="M182.0,280.0 185.0,275.0 191.0,272.0 197.0,270.0 195.0,275.0 193.0,280.0 198.0,284.0 204.0,286.0 205.0,292.0 207.0,299.0 201.0,298.0 200.0,304.0 199.0,309.0 195.0,307.0 191.0,304.0 187.0,302.0 182.0,300.0 179.0,298.0 182.0,291.0 183.0,285.0Z" fill="#1d91c0" stroke="#3c4a5c" stroke-opacity="0.55" stroke-width="0.4" stroke-linejoin="round"/>
<path d="M197.0,270.0 195.0,275.0 193.0,280.0 198.0,284.0 204.0,286.0 205.0,292.0 207.0,299.0 211.0,298.0 214.0,293.0 219.0,291.0 221.0,285.0 222.0,281.0 220.0,276.0 214.0,274.0 208.0,275.0 202.0,272.0Z" fill="#7fcdbb" stroke="#3c4a5c" stroke-opacity="0.55" stroke-width="0.4" stroke-linejoin="round"/>
<path d="M222.0,281.0 227.0,285.0 229.0,290.0 230.0,296.0 226.0,298.0 223.0,294.0 221.0,288.0 221.0,285.0Z" fill="#24479d" stroke="#3c4a5c" stroke-opacity="0.55" stroke-width="0.4" stroke-linejoin="round"/>
<path d="M229.0,287.0 236.4,287.0 235.2,294.0 232.0,296.0 230.0,295.4 229.0,290.0Z" fill="#41b6c4" stroke="#3c4a5c" stroke-opacity="0.55" stroke-width="0.4" stroke-linejoin="round"/>
<path d="M236.4,287.4 241.0,290.2 238.0,295.0 235.2,294.0Z" fill="url(#hatch)" stroke="#d4d4d4" stroke-width="0.5"/>
<path d="M175.0,302.0 179.0,298.0 182.0,300.0 187.0,303.0 185.0,308.0 180.0,312.0 178.0,314.0 174.0,309.0Z" fill="#7fcdbb" stroke="#3c4a5c" stroke-opacity="0.55" stroke-width="0.4" stroke-linejoin="round"/>
<path d="M174.0,315.0 178.0,314.0 180.0,312.0 185.0,308.0 187.0,303.0 191.0,304.0 195.0,307.0 199.0,309.0 198.0,314.0 193.0,316.0 191.0,321.0 194.0,326.0 200.0,330.0 204.0,333.0 202.4,341.0 203.0,350.0 200.0,349.0 193.0,343.0 186.0,335.0 180.0,325.0 175.0,318.0Z" fill="#1d91c0" stroke="#3c4a5c" stroke-opacity="0.55" stroke-width="0.4" stroke-linejoin="round"/>
<path d="M204.0,333.0 210.0,329.0 216.0,335.0 223.0,339.0 224.0,344.0 229.0,347.0 230.0,353.0 225.0,353.0 220.0,355.0 219.0,360.0 214.0,360.0 210.0,361.0 207.0,357.0 204.0,351.0 203.0,343.0Z" fill="#1d91c0" stroke="#3c4a5c" stroke-opacity="0.55" stroke-width="0.4" stroke-linejoin="round"/>
<path d="M207.0,299.0 211.0,298.0 214.0,293.0 219.0,291.0 223.0,294.0 226.0,298.0 230.0,296.0 232.0,296.0 235.0,294.0 238.0,295.0 241.0,290.6 244.0,294.0 246.0,300.0 251.0,303.0 259.0,308.0 268.0,310.0 277.0,314.0 281.0,319.0 280.0,326.0 275.0,335.0 272.0,343.0 272.0,351.0 269.0,361.0 262.0,364.0 255.0,367.4 252.0,372.0 253.0,377.0 250.0,383.0 245.0,388.0 240.0,384.0 235.0,381.4 239.0,375.0 241.0,371.0 239.0,369.0 238.0,364.6 234.0,361.0 230.0,354.0 229.0,347.0 224.0,344.0 223.0,339.0 216.0,335.0 210.0,329.0 204.0,333.0 200.0,330.0 194.0,326.0 191.0,321.0 193.0,316.0 198.0,314.0 199.0,309.0 200.0,304.0 201.0,298.0Z" fill="#24479d" stroke="#3c4a5c" stroke-opacity="0.55" stroke-width="0.4" stroke-linejoin="round"/>
<path d="M220.0,355.0 225.0,353.0 230.0,354.0 234.0,361.0 238.0,364.6 239.0,369.0 236.0,374.0 232.0,373.0 231.0,367.4 227.0,364.0 220.0,360.0Z" fill="#41b6c4" stroke="#3c4a5c" stroke-opacity="0.55" stroke-width="0.4" stroke-linejoin="round"/>
<path d="M235.0,381.4 240.0,384.0 245.0,388.0 243.0,392.0 239.0,394.0 235.0,392.6 234.0,387.0Z" fill="#24479d" stroke="#3c4a5c" stroke-opacity="0.55" stroke-width="0.4" stroke-linejoin="round"/>
<path d="M210.0,361.4 214.0,360.0 219.0,360.0 227.0,364.0 231.0,367.4 232.0,373.0 236.0,374.0 239.0,369.0 241.0,371.0 239.0,375.0 235.0,381.4 234.0,387.0 235.0,392.6 238.0,398.0 237.0,403.0 230.0,404.6 228.0,409.0 224.0,411.0 227.0,414.0 224.0,417.0 226.0,421.0 223.0,425.0 227.0,428.0 225.0,433.0 222.0,436.0 225.0,439.0 230.0,444.0 235.0,445.4 231.0,447.0 225.0,444.0 220.0,439.0 215.0,433.0 213.0,427.0 210.0,419.0 208.0,409.0 207.0,399.0 206.0,390.0 207.0,381.0 208.0,371.0 209.0,364.0Z" fill="#172976" stroke="#3c4a5c" stroke-opacity="0.55" stroke-width="0.4" stroke-linejoin="round"/>
<path d="M201.0,349.0 204.0,351.0 207.0,357.0 210.0,361.4 209.0,364.0 208.0,371.0 207.0,381.0 206.0,390.0 207.0,399.0 208.0,409.0 210.0,419.0 213.0,427.0 215.0,433.0 220.0,439.0 225.0,444.0 231.0,447.0 227.0,447.6 220.0,444.4 214.0,439.4 209.0,431.4 206.0,424.0 207.0,415.0 204.0,405.0 203.0,395.0 202.4,385.0 203.0,375.0 202.4,365.0 201.6,355.0Z" fill="#24479d" stroke="#3c4a5c" stroke-opacity="0.55" stroke-width="0.4" stroke-linejoin="round"/>
<path d="M375.8,164.4 391.4,162.7 402.2,160.1 407.0,157.7 421.4,157.2 428.6,165.6 423.2,179.4 421.4,184.8 411.8,186.0 407.0,189.6 395.0,182.4 383.0,182.4 375.8,180.0Z" fill="#263391"/>
<path d="M378.3,103.3 385.0,102.0 393.3,101.3 400.8,102.5 398.3,104.7 393.3,105.8 388.3,107.5 383.3,106.7Z" fill="#263391" stroke="#3c4a5c" stroke-opacity="0.55" stroke-width="0.4" stroke-linejoin="round"/>
<path d="M448.3,113.3 455.0,110.0 461.7,108.3 466.7,108.3 463.3,110.3 458.3,112.5 454.2,115.8 457.5,120.8 451.7,120.0 447.5,117.5Z" fill="#263391" stroke="#3c4a5c" stroke-opacity="0.55" stroke-width="0.4" stroke-linejoin="round"/>
<path d="M371.7,141.7 374.2,139.2 377.5,137.5 381.7,134.2 385.0,130.0 389.2,125.8 393.3,122.9 398.3,121.7 401.7,120.8 406.7,120.2 411.7,120.7 414.2,121.7 411.7,122.5 410.4,123.3 408.3,122.5 405.8,123.3 403.3,125.0 401.7,126.2 399.2,125.0 396.7,124.6 393.3,125.4 390.0,127.5 387.1,131.7 384.6,136.7 383.8,140.0 384.2,144.2 385.0,147.9 382.9,147.9 380.0,150.0 376.7,150.4 373.8,148.3 372.5,145.0Z" fill="#172976" stroke="#3c4a5c" stroke-opacity="0.55" stroke-width="0.4" stroke-linejoin="round"/>
<path d="M390.0,127.5 393.3,125.4 396.7,124.6 399.2,125.0 401.7,126.2 402.9,128.8 403.7,131.5 400.8,133.3 399.0,135.8 396.7,138.2 394.6,140.0 394.2,142.5 396.2,145.4 397.1,147.1 394.6,149.2 393.8,152.5 392.5,155.0 390.0,156.2 387.9,155.8 386.7,154.2 384.6,150.8 385.0,147.9 384.2,144.2 383.8,140.0 384.6,136.7 387.1,131.7Z" fill="#263391" stroke="#3c4a5c" stroke-opacity="0.55" stroke-width="0.4" stroke-linejoin="round"/>
<path d="M401.7,126.2 403.3,125.0 405.8,123.3 408.3,122.5 410.4,123.3 411.7,125.8 413.3,128.8 414.2,131.7 416.7,135.8 419.2,139.2 415.8,142.5 411.7,144.2 406.7,145.0 403.3,143.8 401.7,141.7 400.8,139.2 403.2,137.1 405.8,135.0 407.2,132.7 404.2,131.2 402.9,128.8Z" fill="#172976" stroke="#3c4a5c" stroke-opacity="0.55" stroke-width="0.4" stroke-linejoin="round"/>
<path d="M406.7,147.9 410.0,147.1 414.2,147.5 415.0,150.0 413.3,151.7 410.4,150.8 407.5,150.4Z" fill="#24479d" stroke="#3c4a5c" stroke-opacity="0.55" stroke-width="0.4" stroke-linejoin="round"/>
<path d="M403.3,152.5 406.7,150.8 410.4,151.0 413.3,151.7 415.8,153.8 415.0,155.0 411.7,154.6 408.3,154.2 405.8,154.8 403.8,154.6Z" fill="#24479d" stroke="#3c4a5c" stroke-opacity="0.55" stroke-width="0.4" stroke-linejoin="round"/>
<path d="M403.8,155.0 405.8,154.8 408.3,154.2 411.7,154.6 414.2,155.8 413.3,158.3 411.2,160.0 408.3,159.6 405.8,158.3 404.2,157.1Z" fill="#172976" stroke="#3c4a5c" stroke-opacity="0.55" stroke-width="0.4" stroke-linejoin="round"/>
<path d="M351.8,150.0 357.2,150.0 357.8,152.4 356.6,154.8 359.6,157.8 362.0,160.8 365.0,163.8 362.6,166.2 358.4,166.8 351.8,168.0 354.2,165.6 352.4,163.2 354.2,161.4 353.0,158.4 354.8,156.0 351.8,153.6Z" fill="#24479d" stroke="#3c4a5c" stroke-opacity="0.55" stroke-width="0.4" stroke-linejoin="round"/>
<path d="M351.7,150.0 355.8,149.2 357.5,153.3 356.7,155.8 360.0,159.2 351.7,159.2 351.7,155.0Z" fill="#24479d" stroke="#3c4a5c" stroke-opacity="0.55" stroke-width="0.4" stroke-linejoin="round"/>
<path d="M343.4,161.4 346.4,159.0 348.4,159.8 350.6,161.4 347.6,164.4 344.0,165.6 342.8,163.8Z" fill="#081d58" stroke="#3c4a5c" stroke-opacity="0.55" stroke-width="0.4" stroke-linejoin="round"/>
<path d="M347.0,158.6 350.0,157.8 350.6,160.6 348.4,160.3Z" fill="#24479d" stroke="#3c4a5c" stroke-opacity="0.55" stroke-width="0.4" stroke-linejoin="round"/>
<path d="M353.6,174.6 358.4,173.4 360.8,170.4 365.0,169.2 369.2,166.8 372.2,169.2 375.2,169.8 377.6,173.4 377.0,175.8 375.2,178.8 376.4,181.2 375.8,184.8 371.0,186.6 368.0,188.4 366.2,189.6 360.8,188.4 359.6,187.2 360.8,182.4 359.0,178.2 354.2,176.4Z" fill="#263391" stroke="#3c4a5c" stroke-opacity="0.55" stroke-width="0.4" stroke-linejoin="round"/>
<path d="M370.4,164.4 374.0,162.0 375.2,162.6 374.0,166.8 375.2,169.8 372.2,169.2 369.2,166.8Z" fill="#263391" stroke="#3c4a5c" stroke-opacity="0.55" stroke-width="0.4" stroke-linejoin="round"/>
<path d="M375.2,162.6 378.2,160.2 383.0,159.0 387.8,160.2 390.8,162.0 391.4,166.8 389.6,169.2 391.4,172.8 389.0,175.5 385.4,177.0 382.4,177.9 378.8,177.0 377.0,175.8 377.6,173.4 375.2,169.8 374.0,166.8Z" fill="#24479d" stroke="#3c4a5c" stroke-opacity="0.55" stroke-width="0.4" stroke-linejoin="round"/>
<path d="M378.8,151.2 382.4,150.6 383.0,154.8 380.6,157.4 378.2,155.4Z" fill="#263391" stroke="#3c4a5c" stroke-opacity="0.55" stroke-width="0.4" stroke-linejoin="round"/>
<path d="M383.6,155.0 385.4,154.6 385.7,157.0 384.0,157.2Z" fill="#263391" stroke="#3c4a5c" stroke-opacity="0.55" stroke-width="0.4" stroke-linejoin="round"/>
<path d="M375.8,178.2 377.0,175.8 378.8,177.0 382.4,177.9 381.2,180.0 377.6,180.6 375.8,180.0Z" fill="#24479d" stroke="#3c4a5c" stroke-opacity="0.55" stroke-width="0.4" stroke-linejoin="round"/>
<path d="M382.4,177.9 385.4,177.0 389.0,175.5 393.8,175.5 395.6,177.0 396.2,178.8 394.4,178.8 389.6,179.4 385.4,179.1 383.0,178.8Z" fill="#225ea8" stroke="#3c4a5c" stroke-opacity="0.55" stroke-width="0.4" stroke-linejoin="round"/>
<path d="M387.8,170.4 391.4,168.6 396.2,169.8 398.6,172.2 396.2,174.0 393.8,175.5 391.4,173.4 389.6,171.6Z" fill="#225ea8" stroke="#3c4a5c" stroke-opacity="0.55" stroke-width="0.4" stroke-linejoin="round"/>
<path d="M390.8,162.0 395.0,159.6 402.2,159.0 407.0,160.2 408.8,164.4 410.0,168.6 408.2,171.6 403.4,172.4 398.6,172.2 396.2,169.8 391.4,168.6 391.4,166.8Z" fill="#172976" stroke="#3c4a5c" stroke-opacity="0.55" stroke-width="0.4" stroke-linejoin="round"/>
<path d="M396.2,174.0 398.6,172.3 403.4,172.4 407.6,172.8 406.4,174.6 401.6,175.8 398.0,175.5 395.6,177.0 393.8,175.5Z" fill="#1d91c0" stroke="#3c4a5c" stroke-opacity="0.55" stroke-width="0.4" stroke-linejoin="round"/>
<path d="M395.6,177.0 398.0,175.5 401.6,175.8 406.4,174.6 408.5,175.8 407.0,178.2 402.2,180.6 398.0,180.0 396.2,178.8Z" fill="#225ea8" stroke="#3c4a5c" stroke-opacity="0.55" stroke-width="0.4" stroke-linejoin="round"/>
<path d="M389.6,179.4 394.4,178.8 396.2,178.8 398.0,180.0 402.2,180.6 402.8,182.4 401.6,184.8 404.0,188.4 402.2,189.6 399.2,186.6 396.2,184.2 392.6,182.4 390.8,183.0 389.0,181.5Z" fill="#263391" stroke="#3c4a5c" stroke-opacity="0.55" stroke-width="0.4" stroke-linejoin="round"/>
<path d="M402.2,180.6 404.6,180.0 407.0,182.4 409.4,186.0 408.2,189.0 405.8,190.2 404.0,188.4 401.6,184.8 402.8,182.4Z" fill="#081d58" stroke="#3c4a5c" stroke-opacity="0.55" stroke-width="0.4" stroke-linejoin="round"/>
<path d="M402.2,189.6 404.0,188.4 405.8,190.2 406.7,191.4 405.8,195.6 404.0,193.8 403.7,191.4Z" fill="#172976" stroke="#3c4a5c" stroke-opacity="0.55" stroke-width="0.4" stroke-linejoin="round"/>
<path d="M405.8,190.2 408.2,189.0 411.8,189.6 411.8,192.0 408.2,193.2 406.7,192.0Z" fill="#24479d" stroke="#3c4a5c" stroke-opacity="0.55" stroke-width="0.4" stroke-linejoin="round"/>
<path d="M407.0,178.2 411.2,177.0 415.4,175.8 419.0,177.0 420.2,180.0 422.0,183.0 420.8,186.0 416.6,186.6 411.8,186.0 409.4,186.0 407.0,182.4 404.6,180.0Z" fill="#263391" stroke="#3c4a5c" stroke-opacity="0.55" stroke-width="0.4" stroke-linejoin="round"/>
<path d="M419.0,177.0 420.8,175.8 423.2,179.4 423.8,182.4 422.0,183.0 420.2,180.0Z" fill="#41b6c4" stroke="#3c4a5c" stroke-opacity="0.55" stroke-width="0.4" stroke-linejoin="round"/>
<path d="M409.4,186.0 411.8,186.0 416.6,186.6 420.8,186.0 421.7,189.0 419.0,191.4 414.2,192.0 411.8,192.0 411.8,189.6 408.2,189.0Z" fill="#1d91c0" stroke="#3c4a5c" stroke-opacity="0.55" stroke-width="0.4" stroke-linejoin="round"/>
<path d="M405.8,195.6 406.7,192.0 408.2,193.2 411.8,192.0 414.2,192.0 419.0,191.4 418.4,193.2 414.2,193.8 411.8,195.0 413.0,198.0 415.4,201.6 414.2,205.2 411.8,202.8 409.4,199.2 407.0,197.4Z" fill="#263391" stroke="#3c4a5c" stroke-opacity="0.55" stroke-width="0.4" stroke-linejoin="round"/>
<path d="M377.0,180.6 381.2,180.0 383.0,178.8 385.4,179.1 389.6,179.4 389.0,181.5 387.8,183.0 389.6,186.0 393.8,189.6 398.6,193.2 401.6,196.2 400.4,198.0 398.0,196.8 399.2,200.4 396.8,201.6 395.6,198.0 392.6,195.0 389.0,192.0 386.0,188.4 383.0,185.4 380.0,184.8 377.6,183.6Z" fill="#263391" stroke="#3c4a5c" stroke-opacity="0.55" stroke-width="0.4" stroke-linejoin="round"/>
<path d="M389.0,202.2 395.0,201.4 397.4,201.9 395.6,204.6 391.4,204.0Z" fill="#263391" stroke="#3c4a5c" stroke-opacity="0.55" stroke-width="0.4" stroke-linejoin="round"/>
<path d="M380.6,186.6 382.2,186.4 382.4,191.4 381.0,191.4Z" fill="#263391" stroke="#3c4a5c" stroke-opacity="0.55" stroke-width="0.4" stroke-linejoin="round"/>
<path d="M380.4,193.5 383.0,193.0 383.3,198.6 381.2,199.5Z" fill="#263391" stroke="#3c4a5c" stroke-opacity="0.55" stroke-width="0.4" stroke-linejoin="round"/>
<path d="M342.8,188.4 347.6,187.2 354.2,187.8 360.8,188.4 366.2,189.6 368.6,190.2 365.0,193.8 362.0,197.4 360.8,201.6 357.8,204.6 353.0,205.8 349.4,207.0 347.6,204.6 345.8,202.8 346.4,198.0 347.0,191.4 343.4,190.8Z" fill="#263391" stroke="#3c4a5c" stroke-opacity="0.55" stroke-width="0.4" stroke-linejoin="round"/>
<path d="M342.8,190.8 347.0,191.4 346.4,198.0 345.8,202.8 342.8,203.4 342.2,198.0Z" fill="#263391" stroke="#3c4a5c" stroke-opacity="0.55" stroke-width="0.4" stroke-linejoin="round"/>
<path d="M400.5,158.0 403.7,157.2 403.7,159.3 400.8,159.3Z" fill="#263391" stroke="#3c4a5c" stroke-opacity="0.55" stroke-width="0.4" stroke-linejoin="round"/>
<path d="M410.0,159.7 413.3,157.5 415.8,155.0 420.8,155.8 425.0,160.0 425.8,164.2 421.7,165.8 415.0,166.3 410.8,166.7 409.2,164.2Z" fill="#263391" stroke="#3c4a5c" stroke-opacity="0.55" stroke-width="0.4" stroke-linejoin="round"/>
<path d="M410.0,168.3 410.8,166.7 415.0,166.3 421.7,165.8 425.8,164.2 430.8,165.0 435.0,167.5 440.0,170.0 443.3,172.5 442.5,175.8 438.3,178.3 435.0,179.7 435.8,182.0 433.3,182.8 430.8,181.7 430.8,179.2 425.8,179.2 423.3,180.3 420.8,177.5 418.3,175.0 415.0,174.7 411.7,175.8 408.3,176.7 408.0,174.2 408.3,171.7Z" fill="#1d91c0" stroke="#3c4a5c" stroke-opacity="0.55" stroke-width="0.4" stroke-linejoin="round"/>
<path d="M415.0,208.3 420.0,208.7 419.7,209.8 415.3,209.7Z" fill="#263391" stroke="#3c4a5c" stroke-opacity="0.55" stroke-width="0.4" stroke-linejoin="round"/>
<path d="M433.3,209.2 437.0,208.0 436.7,210.0 434.2,210.5Z" fill="#24479d" stroke="#3c4a5c" stroke-opacity="0.55" stroke-width="0.4" stroke-linejoin="round"/>
<path d="M420.0,195.8 423.3,194.2 428.3,192.5 435.0,193.3 441.7,193.0 450.0,192.5 456.7,193.3 459.2,197.5 457.5,200.8 451.7,202.5 445.0,204.2 440.8,205.8 436.7,204.2 430.8,205.8 425.8,205.0 421.7,202.5 420.0,199.2Z" fill="#263391" stroke="#3c4a5c" stroke-opacity="0.55" stroke-width="0.4" stroke-linejoin="round"/>
<path d="M418.3,193.0 422.0,192.0 422.5,194.7 419.3,195.3Z" fill="#263391" stroke="#3c4a5c" stroke-opacity="0.55" stroke-width="0.4" stroke-linejoin="round"/>
<path d="M450.0,188.3 455.0,189.2 460.0,190.8 459.2,193.3 456.7,193.3 451.7,191.7Z" fill="#24479d" stroke="#3c4a5c" stroke-opacity="0.55" stroke-width="0.4" stroke-linejoin="round"/>
<path d="M459.2,193.3 463.3,192.5 468.3,195.0 466.7,199.2 462.5,198.3 459.2,197.5 457.5,195.0Z" fill="#225ea8" stroke="#3c4a5c" stroke-opacity="0.55" stroke-width="0.4" stroke-linejoin="round"/>
<path d="M441.7,205.8 445.0,204.2 451.7,202.5 454.2,203.3 452.5,208.3 448.3,212.5 444.2,214.2 441.7,211.7 442.5,208.3Z" fill="#7fcdbb" stroke="#3c4a5c" stroke-opacity="0.55" stroke-width="0.4" stroke-linejoin="round"/>
<path d="M440.3,210.8 442.0,209.2 441.8,212.7 440.5,212.7Z" fill="#1d91c0" stroke="#3c4a5c" stroke-opacity="0.55" stroke-width="0.4" stroke-linejoin="round"/>
<path d="M439.7,213.3 441.5,212.8 441.2,218.3 440.0,222.0 439.0,217.5Z" fill="#081d58" stroke="#3c4a5c" stroke-opacity="0.55" stroke-width="0.4" stroke-linejoin="round"/>
<path d="M441.7,214.7 444.2,214.2 448.3,212.8 450.0,216.7 445.8,220.0 443.3,223.3 440.8,222.7 441.3,218.3Z" fill="#41b6c4" stroke="#3c4a5c" stroke-opacity="0.55" stroke-width="0.4" stroke-linejoin="round"/>
<path d="M452.5,208.3 454.2,203.3 457.5,201.0 460.3,201.7 462.5,205.8 464.2,211.7 468.3,216.7 471.7,220.8 468.3,224.2 464.2,223.3 458.3,219.2 451.7,216.7 450.0,215.0 448.3,212.8Z" fill="#7fcdbb" stroke="#3c4a5c" stroke-opacity="0.55" stroke-width="0.4" stroke-linejoin="round"/>
<path d="M468.3,224.2 471.0,223.0 471.0,226.0Z" fill="#24479d" stroke="#3c4a5c" stroke-opacity="0.55" stroke-width="0.4" stroke-linejoin="round"/>
<path d="M443.3,223.3 445.8,220.0 450.0,216.7 451.7,216.7 458.3,219.2 464.2,223.3 468.3,224.2 470.3,227.5 473.3,233.0 476.0,238.3 478.7,245.8 478.3,253.3 468.3,256.7 462.5,257.5 460.0,260.0 455.0,253.3 451.7,245.0 448.3,236.7 445.0,229.2Z" fill="#24479d"/>
<path d="M418.3,219.2 423.3,220.0 428.3,219.7 433.3,218.3 438.3,220.0 440.3,223.0 439.2,226.7 437.0,223.7 439.2,230.0 443.3,238.3 445.8,243.3 420.0,243.3 419.2,230.0Z" fill="#225ea8" stroke="#3c4a5c" stroke-opacity="0.55" stroke-width="0.4" stroke-linejoin="round"/>
<path d="M385.0,215.8 390.0,216.7 395.8,219.2 401.7,220.8 406.7,220.0 408.3,217.5 413.3,216.7 418.3,219.2 419.2,230.0 420.0,243.3 420.0,249.2 417.5,250.0 416.7,248.3 397.5,240.8 393.3,242.5 389.2,240.0 385.0,236.7 384.2,228.3 385.8,221.7 384.2,220.0 385.8,217.5Z" fill="#225ea8" stroke="#3c4a5c" stroke-opacity="0.55" stroke-width="0.4" stroke-linejoin="round"/>
<path d="M380.0,205.8 384.2,204.2 385.8,207.5 385.0,211.7 387.5,214.2 385.8,217.5 384.2,220.0 381.7,215.8 379.7,211.7Z" fill="#24479d" stroke="#3c4a5c" stroke-opacity="0.55" stroke-width="0.4" stroke-linejoin="round"/>
<path d="M351.7,209.2 358.3,207.5 365.0,205.8 373.3,205.0 380.0,205.8 379.7,211.7 381.7,215.8 384.2,220.0 384.2,228.3 385.0,236.7 389.2,240.0 374.2,250.8 370.8,250.8 360.0,243.3 343.3,227.5 344.2,225.0 350.0,221.7 356.7,219.2 358.3,213.3 355.0,211.7Z" fill="#225ea8" stroke="#3c4a5c" stroke-opacity="0.55" stroke-width="0.4" stroke-linejoin="round"/>
<path d="M351.7,209.2 355.0,211.7 358.3,213.3 356.7,219.2 350.0,221.7 344.2,225.0 343.3,227.5 334.2,228.7 338.3,223.3 341.7,218.3 344.2,214.2 347.5,210.8Z" fill="#225ea8" stroke="#3c4a5c" stroke-opacity="0.55" stroke-width="0.4" stroke-linejoin="round"/>
<path d="M342.4,229.7 355.3,219.7 383.5,223.2 388.8,240.3 372.4,251.5 348.2,235.0 342.9,230.3Z" fill="#225ea8"/>
<path d="M323.5,245.6 327.1,238.5 331.8,231.5 334.1,229.7 342.4,229.7 342.4,233.2 335.3,233.8 334.1,238.5 332.4,245.8Z" fill="url(#hatch)" stroke="#d4d4d4" stroke-width="0.5"/>
<path d="M324.1,246.2 332.4,245.8 334.1,238.5 335.3,233.8 342.4,233.2 342.9,230.3 348.2,235.0 348.8,260.3 335.3,261.5 334.1,262.1 331.8,259.1 326.5,257.9 324.7,252.6Z" fill="#1d91c0" stroke="#3c4a5c" stroke-opacity="0.55" stroke-width="0.4" stroke-linejoin="round"/>
<path d="M348.2,235.0 372.4,251.5 371.8,256.8 370.6,260.9 364.1,262.1 358.8,263.2 354.1,266.8 351.2,271.5 350.0,273.8 345.9,270.3 340.6,267.9 336.5,267.9 335.3,262.1 335.3,261.5 348.8,260.3Z" fill="#41b6c4" stroke="#3c4a5c" stroke-opacity="0.55" stroke-width="0.4" stroke-linejoin="round"/>
<path d="M372.4,251.5 388.8,240.3 396.5,241.5 398.2,249.1 396.5,257.4 394.1,264.4 395.3,267.4 390.6,266.8 383.5,267.4 378.8,266.2 372.9,265.6 370.6,269.7 367.1,269.1 364.1,264.4 364.1,262.1 370.6,260.9 371.8,256.8Z" fill="#225ea8" stroke="#3c4a5c" stroke-opacity="0.55" stroke-width="0.4" stroke-linejoin="round"/>
<path d="M350.0,273.8 351.2,271.5 354.1,266.8 358.8,263.2 364.1,262.1 364.1,264.4 367.1,269.1 365.3,271.5 360.0,272.1 355.3,272.6 354.1,275.6Z" fill="#225ea8" stroke="#3c4a5c" stroke-opacity="0.55" stroke-width="0.4" stroke-linejoin="round"/>
<path d="M365.3,271.5 367.1,269.1 370.6,269.7 370.0,276.2 368.8,284.4 366.5,284.6 366.1,276.2Z" fill="#41b6c4" stroke="#3c4a5c" stroke-opacity="0.55" stroke-width="0.4" stroke-linejoin="round"/>
<path d="M362.9,272.6 365.3,271.5 366.1,276.2 366.5,284.6 364.7,285.0 363.8,277.4Z" fill="#edf8b1" stroke="#3c4a5c" stroke-opacity="0.55" stroke-width="0.4" stroke-linejoin="round"/>
<path d="M355.3,272.6 360.0,272.1 362.9,272.6 363.8,277.4 364.7,285.0 360.0,286.8 355.3,285.6 355.9,278.5Z" fill="#7fcdbb" stroke="#3c4a5c" stroke-opacity="0.55" stroke-width="0.4" stroke-linejoin="round"/>
<path d="M370.6,269.7 372.9,265.6 378.8,266.2 383.5,267.4 390.6,266.8 395.3,267.4 396.2,271.9 392.2,279.0 389.3,284.1 387.1,285.6 383.5,287.4 380.0,290.3 374.1,289.1 368.8,284.4 370.0,276.2Z" fill="#c7e9b4" stroke="#3c4a5c" stroke-opacity="0.55" stroke-width="0.4" stroke-linejoin="round"/>
<path d="M321.8,262.6 324.7,259.1 326.5,257.9 331.8,259.1 334.1,262.1 335.3,266.8 331.8,268.5 327.1,269.1 323.5,268.5 322.4,265.6Z" fill="#7fcdbb" stroke="#3c4a5c" stroke-opacity="0.55" stroke-width="0.4" stroke-linejoin="round"/>
<path d="M324.1,269.4 328.8,269.1 329.4,271.5 325.9,272.1Z" fill="#edf8b1" stroke="#3c4a5c" stroke-opacity="0.55" stroke-width="0.4" stroke-linejoin="round"/>
<path d="M327.1,272.6 329.4,271.5 331.8,269.1 335.3,266.8 336.5,267.9 340.6,267.9 345.9,270.3 342.9,276.2 340.0,279.1 337.6,280.9 336.5,277.4 332.9,275.0 330.6,275.0Z" fill="#c7e9b4" stroke="#3c4a5c" stroke-opacity="0.55" stroke-width="0.4" stroke-linejoin="round"/>
<path d="M331.8,276.2 335.3,275.0 337.6,280.9 335.3,283.2 332.4,280.3Z" fill="#c7e9b4" stroke="#3c4a5c" stroke-opacity="0.55" stroke-width="0.4" stroke-linejoin="round"/>
<path d="M335.3,283.2 337.6,280.9 340.0,279.1 342.9,285.6 344.7,290.3 340.6,288.5 337.6,285.6Z" fill="#edf8b1" stroke="#3c4a5c" stroke-opacity="0.55" stroke-width="0.4" stroke-linejoin="round"/>
<path d="M342.9,276.2 345.9,270.3 350.0,273.8 354.1,275.6 355.3,272.6 355.9,278.5 355.3,285.6 350.0,288.5 344.7,290.3 342.9,285.6 340.0,279.1Z" fill="#7fcdbb" stroke="#3c4a5c" stroke-opacity="0.55" stroke-width="0.4" stroke-linejoin="round"/>
<path d="M397.0,241.2 418.0,248.6 419.2,252.0 416.0,261.0 414.0,267.0 416.0,273.0 410.0,276.0 405.0,280.0 400.0,282.0 397.0,278.0 395.0,273.0 396.0,272.0 395.0,267.0 395.0,261.0 398.0,254.0Z" fill="#41b6c4" stroke="#3c4a5c" stroke-opacity="0.55" stroke-width="0.4" stroke-linejoin="round"/>
<path d="M396.0,272.0 397.0,278.0 400.0,282.0 398.0,285.0 402.0,292.0 403.0,296.0 396.0,296.0 389.0,297.0 385.0,296.0 384.0,291.0 384.0,286.0 389.0,284.0 392.0,279.0Z" fill="#41b6c4" stroke="#3c4a5c" stroke-opacity="0.55" stroke-width="0.4" stroke-linejoin="round"/>
<path d="M400.0,282.0 405.0,280.0 410.0,276.0 416.0,273.0 420.0,278.0 425.0,284.0 429.0,289.0 422.0,289.0 414.0,289.0 408.0,290.0 404.0,294.0 402.0,292.0 398.0,285.0Z" fill="#7fcdbb" stroke="#3c4a5c" stroke-opacity="0.55" stroke-width="0.4" stroke-linejoin="round"/>
<path d="M419.0,244.4 446.0,244.4 448.0,254.0 451.0,260.0 448.0,263.0 445.0,272.0 441.0,276.0 438.0,274.0 434.0,276.0 429.0,278.0 424.0,277.0 420.0,278.0 416.0,273.0 414.0,267.0 416.0,261.0 419.0,253.0 418.0,250.0Z" fill="#41b6c4" stroke="#3c4a5c" stroke-opacity="0.55" stroke-width="0.4" stroke-linejoin="round"/>
<path d="M420.0,278.0 424.0,277.0 429.0,278.0 434.0,276.0 438.0,274.0 441.0,276.0 440.0,281.0 445.0,288.0 440.0,292.0 434.0,291.0 429.0,289.0 425.0,284.0Z" fill="#41b6c4" stroke="#3c4a5c" stroke-opacity="0.55" stroke-width="0.4" stroke-linejoin="round"/>
<path d="M445.0,272.0 448.0,264.0 454.0,265.0 460.0,271.0 463.0,275.0 464.0,278.0 472.0,282.0 467.0,288.0 460.0,291.0 452.0,292.0 445.0,288.0 440.0,281.0 441.0,276.0Z" fill="#41b6c4" stroke="#3c4a5c" stroke-opacity="0.55" stroke-width="0.4" stroke-linejoin="round"/>
<path d="M448.0,263.0 451.0,256.0 456.0,263.0 462.4,271.0 461.0,272.0 454.0,265.0 448.0,264.0Z" fill="url(#hatch)" stroke="#d4d4d4" stroke-width="0.5"/>
<path d="M461.0,272.0 464.0,272.4 463.0,275.6Z" fill="#7fcdbb" stroke="#3c4a5c" stroke-opacity="0.55" stroke-width="0.4" stroke-linejoin="round"/>
<path d="M463.0,275.0 466.0,274.0 474.0,272.4 481.0,270.4 480.0,276.0 475.0,286.0 467.0,297.0 460.0,305.0 458.0,302.0 458.0,295.0 460.0,291.0 467.0,288.0 472.0,282.0 464.0,278.0Z" fill="#edf8b1" stroke="#3c4a5c" stroke-opacity="0.55" stroke-width="0.4" stroke-linejoin="round"/>
<path d="M445.0,288.0 452.0,292.0 460.0,291.0 458.0,295.0 458.0,302.0 460.0,306.0 454.0,314.0 450.0,310.0 442.0,305.0 443.0,299.0 445.0,295.0 442.4,291.0Z" fill="#c7e9b4" stroke="#3c4a5c" stroke-opacity="0.55" stroke-width="0.4" stroke-linejoin="round"/>
<path d="M434.0,291.6 440.0,292.0 442.4,291.0 445.0,295.0 443.0,299.0 442.0,304.4 434.0,304.4 432.0,301.0 433.0,296.0Z" fill="#c7e9b4" stroke="#3c4a5c" stroke-opacity="0.55" stroke-width="0.4" stroke-linejoin="round"/>
<path d="M408.0,290.0 414.0,289.0 422.0,289.0 429.0,289.0 434.0,291.0 433.0,296.0 432.0,301.0 431.0,306.0 432.0,314.0 431.0,321.0 433.0,324.0 429.0,325.0 428.0,331.0 430.0,336.0 424.0,335.0 420.0,332.0 414.0,331.0 413.0,324.0 409.0,320.0 406.0,321.0 402.0,318.0 395.0,318.0 392.0,316.0 397.0,310.0 400.0,304.0 403.0,297.0 404.0,294.0Z" fill="#edf8b1" stroke="#3c4a5c" stroke-opacity="0.55" stroke-width="0.4" stroke-linejoin="round"/>
<path d="M395.9,298.8 399.4,294.7 403.5,291.8 405.3,293.5 402.9,300.6 399.4,307.6 395.9,314.1 391.2,315.3 389.4,312.4 392.9,309.4 395.9,307.1Z" fill="#c7e9b4" stroke="#3c4a5c" stroke-opacity="0.55" stroke-width="0.4" stroke-linejoin="round"/>
<path d="M384.1,299.4 388.2,298.8 388.8,296.5 392.9,296.5 395.9,298.8 395.9,307.1 392.9,309.4 389.4,312.4 386.5,309.4 383.5,305.3 382.9,302.4Z" fill="#1d91c0" stroke="#3c4a5c" stroke-opacity="0.55" stroke-width="0.4" stroke-linejoin="round"/>
<path d="M384.5,296.8 388.2,296.6 388.2,298.8 384.5,299.1Z" fill="url(#hatch)" stroke="#d4d4d4" stroke-width="0.5"/>
<path d="M434.0,304.4 442.0,305.0 450.0,310.0 454.0,314.0 453.0,322.0 456.0,328.0 451.0,331.0 444.0,332.0 438.0,327.0 433.0,324.0 431.0,321.0 432.0,314.0 434.4,313.0Z" fill="#c7e9b4" stroke="#3c4a5c" stroke-opacity="0.55" stroke-width="0.4" stroke-linejoin="round"/>
<path d="M431.0,306.0 434.0,304.4 434.4,313.0 432.0,314.0Z" fill="#c7e9b4" stroke="#3c4a5c" stroke-opacity="0.55" stroke-width="0.4" stroke-linejoin="round"/>
<path d="M392.0,317.0 395.0,318.0 402.0,318.0 406.0,321.0 409.0,320.0 413.0,324.0 413.6,331.0 418.0,332.0 413.0,337.0 414.0,348.0 402.0,347.6 390.0,347.0 391.0,340.0 394.0,332.0 392.0,324.0Z" fill="#edf8b1" stroke="#3c4a5c" stroke-opacity="0.55" stroke-width="0.4" stroke-linejoin="round"/>
<path d="M418.0,332.0 424.0,335.0 429.0,336.0 428.0,331.0 429.0,325.0 433.0,324.0 438.0,327.0 440.0,332.0 437.0,339.0 432.0,343.0 427.0,345.0 422.0,350.0 417.0,349.4 414.0,348.0 413.0,337.0Z" fill="#edf8b1" stroke="#3c4a5c" stroke-opacity="0.55" stroke-width="0.4" stroke-linejoin="round"/>
<path d="M439.0,327.6 441.4,329.0 442.4,338.0 444.0,342.0 442.4,345.6 441.0,341.0 439.6,335.0Z" fill="#41b6c4" stroke="#3c4a5c" stroke-opacity="0.55" stroke-width="0.4" stroke-linejoin="round"/>
<path d="M442.4,332.0 451.0,331.0 456.0,329.0 457.0,338.0 454.0,344.0 447.0,350.0 442.0,356.0 444.0,362.0 441.0,367.0 437.0,371.4 435.0,370.0 435.0,360.0 438.0,353.0 437.0,346.0 432.0,343.0 437.0,339.0 440.0,333.0 441.0,341.0 442.4,345.6 444.0,342.0 443.0,336.0Z" fill="#edf8b1" stroke="#3c4a5c" stroke-opacity="0.55" stroke-width="0.4" stroke-linejoin="round"/>
<path d="M422.0,350.0 427.0,345.0 432.0,343.0 437.0,346.0 438.0,353.0 435.0,359.6 429.0,361.0 424.0,356.0Z" fill="#c7e9b4" stroke="#3c4a5c" stroke-opacity="0.55" stroke-width="0.4" stroke-linejoin="round"/>
<path d="M410.0,350.0 417.0,349.4 422.0,350.0 424.0,356.0 429.0,361.0 424.0,365.0 420.0,369.0 415.0,368.0 411.0,372.4 408.0,369.2 409.0,361.0 410.0,356.0Z" fill="#41b6c4" stroke="#3c4a5c" stroke-opacity="0.55" stroke-width="0.4" stroke-linejoin="round"/>
<path d="M389.6,347.6 402.0,348.0 410.0,348.4 417.0,349.0 417.0,349.6 410.0,350.0 409.0,361.0 408.0,369.2 407.0,377.0 402.0,378.0 398.0,373.0 395.0,364.0 392.0,355.0Z" fill="#7fcdbb" stroke="#3c4a5c" stroke-opacity="0.55" stroke-width="0.4" stroke-linejoin="round"/>
<path d="M402.0,378.0 407.0,377.0 408.0,369.2 411.0,372.4 415.0,368.0 420.0,369.0 424.0,365.0 429.0,361.0 435.0,359.6 435.0,370.0 437.0,371.4 434.0,378.0 429.0,385.0 420.0,391.0 412.0,392.0 406.0,393.6 402.4,391.0 403.0,385.0 400.0,380.0Z" fill="#41b6c4" stroke="#3c4a5c" stroke-opacity="0.55" stroke-width="0.4" stroke-linejoin="round"/>
<path d="M423.6,379.6 426.4,378.0 427.6,380.4 425.0,382.4Z" fill="#edf8b1" stroke="#3c4a5c" stroke-opacity="0.55" stroke-width="0.4" stroke-linejoin="round"/>
<path d="M432.4,371.0 434.4,370.4 434.8,373.6 432.8,374.0Z" fill="#edf8b1" stroke="#3c4a5c" stroke-opacity="0.55" stroke-width="0.4" stroke-linejoin="round"/>
<path d="M462.0,359.0 464.0,352.0 468.0,345.0 473.0,340.0 477.0,334.0 479.0,340.0 477.0,348.0 474.0,358.0 470.0,367.0 465.0,369.6 462.0,366.0Z" fill="#edf8b1" stroke="#3c4a5c" stroke-opacity="0.55" stroke-width="0.4" stroke-linejoin="round"/>
<path d="M492.8,355.0 494.4,354.8 494.4,356.4 493.0,356.4Z" fill="#263391" stroke="#3c4a5c" stroke-opacity="0.55" stroke-width="0.4" stroke-linejoin="round"/>
<path d="M410.4,123.3 414.2,121.7 418.3,122.9 423.3,124.2 428.3,125.4 432.5,127.5 434.2,130.0 431.7,131.2 428.3,130.4 425.0,130.0 421.7,130.8 425.0,132.9 427.5,135.0 430.0,134.0 432.5,132.9 435.0,131.7 437.0,127.5 441.7,126.7 448.3,128.3 455.0,125.8 461.7,125.0 466.0,122.0 472.0,125.0 475.0,117.0 480.0,116.0 482.0,121.0 487.0,130.0 490.0,128.0 485.0,119.0 484.0,116.0 492.0,115.0 500.0,111.0 510.0,109.0 520.0,107.0 530.0,109.0 540.0,113.0 550.0,115.0 560.0,114.0 570.0,117.0 580.0,120.0 588.0,117.0 600.0,118.0 610.0,119.0 620.0,120.6 628.0,121.0 634.0,124.0 642.0,124.0 650.0,125.0 648.0,122.6 658.0,122.0 666.0,125.0 674.0,130.0 680.0,135.0 688.0,140.0 680.0,141.0 679.0,146.0 676.0,144.0 669.0,146.0 667.0,149.0 672.0,153.0 677.0,157.0 678.0,167.4 674.0,165.0 668.0,159.0 662.0,154.0 661.0,151.0 663.0,149.0 662.0,143.0 660.0,140.6 658.0,144.0 650.0,143.0 650.0,147.0 644.0,148.0 629.0,149.0 626.0,157.0 632.0,161.0 640.0,161.0 645.0,167.0 648.0,177.0 646.0,185.0 641.0,189.0 639.0,184.0 640.0,179.0 639.0,175.0 632.0,175.0 620.0,172.0 618.0,168.0 610.0,164.0 602.0,163.0 601.0,168.0 598.0,172.0 590.0,171.0 582.0,172.0 572.0,170.0 566.0,167.0 561.0,166.0 558.0,171.0 548.0,170.0 542.0,172.0 536.0,170.0 526.0,168.0 518.0,164.0 510.0,160.0 504.0,164.0 496.0,164.0 484.0,167.0 476.0,173.0 462.0,177.0 461.7,177.5 460.0,176.7 464.2,178.3 466.7,178.3 465.0,183.3 462.5,186.7 465.0,190.8 466.7,193.3 458.3,190.8 451.7,189.2 448.3,186.7 443.3,183.3 440.0,181.7 437.5,180.0 438.3,178.3 442.5,175.8 443.3,172.5 440.0,170.0 435.0,167.5 430.8,165.0 425.8,164.2 425.0,160.0 420.8,155.8 415.8,155.0 415.8,152.5 415.0,155.0 415.8,153.8 413.3,151.7 415.0,150.0 414.2,147.5 415.8,145.4 415.8,142.5 419.2,139.2 416.7,135.8 414.2,131.7 413.3,128.8 411.7,125.8Z" fill="#263391" stroke="#3c4a5c" stroke-opacity="0.55" stroke-width="0.4" stroke-linejoin="round"/>
<path d="M494.0,101.0 502.0,100.0 510.0,103.0 506.0,104.6 498.0,103.4Z" fill="#263391" stroke="#3c4a5c" stroke-opacity="0.55" stroke-width="0.4" stroke-linejoin="round"/>
<path d="M511.0,103.4 518.0,104.0 517.0,106.0 512.0,105.4Z" fill="#263391" stroke="#3c4a5c" stroke-opacity="0.55" stroke-width="0.4" stroke-linejoin="round"/>
<path d="M575.0,110.0 582.0,109.0 588.0,111.0 584.0,113.0 578.0,112.6Z" fill="#263391" stroke="#3c4a5c" stroke-opacity="0.55" stroke-width="0.4" stroke-linejoin="round"/>
<path d="M641.0,160.0 645.0,164.0 650.0,170.0 656.0,176.0 659.0,180.6 656.0,179.0 650.0,172.0 645.0,166.0 641.6,162.0Z" fill="#263391" stroke="#3c4a5c" stroke-opacity="0.55" stroke-width="0.4" stroke-linejoin="round"/>
<path d="M463.8,180.3 461.4,178.2 459.4,175.8 457.8,172.8 459.0,170.4 461.4,168.0 465.6,166.8 470.4,168.0 474.0,169.2 480.0,168.0 485.4,168.0 482.4,165.6 482.4,162.0 487.2,159.6 492.0,158.6 496.8,157.8 500.4,159.0 504.0,160.2 511.2,160.8 518.0,164.0 526.0,168.0 536.0,170.0 542.0,172.0 539.0,175.0 534.0,178.0 533.0,183.0 531.0,188.0 524.0,189.0 518.0,189.0 513.0,191.0 512.0,195.0 509.0,198.0 505.0,195.0 500.0,189.0 493.0,187.0 486.0,184.0 480.0,183.0 479.0,189.0 480.0,194.0 475.0,193.4 470.0,189.0 467.0,185.0 469.0,182.0Z" fill="#24479d" stroke="#3c4a5c" stroke-opacity="0.55" stroke-width="0.4" stroke-linejoin="round"/>
<path d="M542.0,172.0 548.0,170.0 558.0,171.0 561.0,166.0 566.0,167.0 572.0,170.0 582.0,172.0 590.0,171.0 598.0,172.0 601.0,175.0 609.0,178.0 604.0,181.0 598.0,183.0 596.0,188.0 586.0,192.0 578.0,189.0 568.0,189.0 560.0,186.0 552.0,182.0 546.0,177.0Z" fill="#081d58" stroke="#3c4a5c" stroke-opacity="0.55" stroke-width="0.4" stroke-linejoin="round"/>
<path d="M533.0,183.0 534.0,178.0 539.0,175.0 542.0,172.0 546.0,177.0 552.0,182.0 560.0,186.0 568.0,189.0 578.0,189.0 586.0,192.0 596.0,188.0 598.0,183.0 604.0,181.0 609.0,178.0 601.0,175.0 598.0,172.0 601.0,168.0 602.0,163.0 610.0,164.0 618.0,168.0 620.0,172.0 632.0,175.0 639.0,175.0 640.0,179.0 639.0,184.0 640.0,189.0 638.0,191.0 633.0,194.0 629.0,196.0 625.0,195.0 623.0,197.0 618.0,200.0 620.0,203.0 625.0,203.0 629.0,205.0 626.0,209.0 630.0,213.0 634.0,219.0 636.0,226.0 634.0,234.0 630.0,240.0 625.0,244.0 620.0,246.0 615.0,247.0 613.0,246.0 609.0,247.0 606.0,246.0 602.0,241.0 597.0,243.0 602.0,241.0 596.0,243.0 591.0,244.0 588.0,240.0 586.0,234.0 582.0,229.0 580.0,225.0 575.0,226.0 569.0,228.4 563.0,229.0 561.0,229.0 554.0,226.0 546.0,222.0 542.0,223.0 540.0,220.0 537.0,215.0 534.0,210.0 531.0,207.0 526.0,204.0 522.0,198.0 525.0,195.0 531.0,193.0Z" fill="#172976" stroke="#3c4a5c" stroke-opacity="0.55" stroke-width="0.4" stroke-linejoin="round"/>
<path d="M611.6,249.6 615.0,249.0 616.0,252.0 613.6,254.0 611.6,252.4Z" fill="#172976" stroke="#3c4a5c" stroke-opacity="0.55" stroke-width="0.4" stroke-linejoin="round"/>
<path d="M636.4,237.0 638.6,235.6 639.0,240.0 637.4,244.0 636.0,241.0Z" fill="#24479d" stroke="#3c4a5c" stroke-opacity="0.55" stroke-width="0.4" stroke-linejoin="round"/>
<path d="M631.0,195.0 635.0,193.0 639.0,191.0 640.4,194.0 637.6,198.0 636.0,201.6 632.4,200.0 631.0,198.0Z" fill="url(#hatch)" stroke="#d4d4d4" stroke-width="0.5"/>
<path d="M637.0,202.0 641.0,201.0 645.0,205.0 645.6,209.0 641.6,211.4 639.0,208.0Z" fill="#263391" stroke="#3c4a5c" stroke-opacity="0.55" stroke-width="0.4" stroke-linejoin="round"/>
<path d="M659.0,185.0 663.0,183.0 669.0,187.0 665.0,191.0 660.4,190.0Z" fill="#225ea8" stroke="#3c4a5c" stroke-opacity="0.55" stroke-width="0.4" stroke-linejoin="round"/>
<path d="M662.0,193.0 666.0,194.0 669.0,201.0 670.0,208.0 667.0,211.0 663.0,210.0 660.0,211.6 658.0,211.0 654.0,212.4 650.0,215.0 652.4,213.6 654.4,218.0 656.0,214.4 660.0,214.4 663.0,212.0 662.4,206.0 664.4,201.0 663.0,197.0Z" fill="#225ea8" stroke="#3c4a5c" stroke-opacity="0.55" stroke-width="0.4" stroke-linejoin="round"/>
<path d="M649.0,215.0 652.4,213.6 654.4,219.0 652.4,220.4 650.0,218.0Z" fill="#225ea8" stroke="#3c4a5c" stroke-opacity="0.55" stroke-width="0.4" stroke-linejoin="round"/>
<path d="M480.0,183.0 486.0,184.0 493.0,187.0 500.0,189.0 505.0,195.0 509.0,198.0 508.0,202.0 503.0,200.0 498.0,196.0 490.0,193.0 485.0,189.0 480.0,190.0 479.0,189.0Z" fill="#24479d" stroke="#3c4a5c" stroke-opacity="0.55" stroke-width="0.4" stroke-linejoin="round"/>
<path d="M477.0,192.0 480.0,190.0 485.0,189.0 490.0,193.0 498.0,196.0 503.0,200.0 506.0,203.0 500.0,207.0 494.0,206.0 488.0,203.0 482.0,202.0 477.6,204.0 477.0,199.0Z" fill="#1d91c0" stroke="#3c4a5c" stroke-opacity="0.55" stroke-width="0.4" stroke-linejoin="round"/>
<path d="M513.0,191.0 518.0,189.0 524.0,189.0 531.0,188.0 531.0,193.0 525.0,195.0 520.0,195.0 514.0,194.4Z" fill="#1d91c0" stroke="#3c4a5c" stroke-opacity="0.55" stroke-width="0.4" stroke-linejoin="round"/>
<path d="M510.0,197.0 514.0,194.4 520.0,195.0 525.2,194.8 523.2,198.0 520.0,201.0 513.0,202.0 509.0,201.0Z" fill="#1d91c0" stroke="#3c4a5c" stroke-opacity="0.55" stroke-width="0.4" stroke-linejoin="round"/>
<path d="M456.0,196.0 462.0,200.0 467.0,197.0 470.0,200.0 473.0,203.0 478.0,203.0 482.0,202.0 488.0,203.0 494.0,206.0 500.0,207.0 498.0,210.0 497.0,216.0 500.0,223.0 504.0,230.0 501.0,235.0 494.0,233.2 490.4,230.4 487.6,231.6 484.2,233.0 481.6,231.4 477.6,226.4 474.4,221.6 470.4,218.4 465.0,212.0 463.0,207.0 460.0,206.0 457.0,202.0Z" fill="#1d91c0" stroke="#3c4a5c" stroke-opacity="0.55" stroke-width="0.4" stroke-linejoin="round"/>
<path d="M500.0,207.0 506.0,203.0 509.0,201.0 513.0,202.0 520.0,200.6 522.8,198.6 526.0,204.0 520.0,206.0 519.0,210.0 514.0,213.0 512.0,219.0 506.0,223.0 500.0,223.0 497.0,216.0 498.0,210.0Z" fill="#7fcdbb" stroke="#3c4a5c" stroke-opacity="0.55" stroke-width="0.4" stroke-linejoin="round"/>
<path d="M526.0,204.4 531.0,207.0 534.0,210.0 529.0,212.0 529.0,219.0 524.0,226.0 520.0,230.0 521.0,235.0 519.0,238.0 514.0,234.0 510.0,233.0 504.0,235.0 504.0,230.0 500.0,223.0 506.0,223.0 512.0,219.0 514.0,213.0 519.0,210.0 520.0,206.0Z" fill="#7fcdbb" stroke="#3c4a5c" stroke-opacity="0.55" stroke-width="0.4" stroke-linejoin="round"/>
<path d="M559.7,228.4 580.3,227.7 584.4,231.7 583.5,237.6 589.1,243.5 594.4,244.9 590.3,250.3 579.7,250.3 566.8,238.5Z" fill="#41b6c4"/>
<path d="M529.0,212.0 534.0,210.0 537.0,215.0 540.0,220.0 542.0,223.0 544.0,225.6 552.0,229.0 560.0,232.0 562.0,232.0 564.0,231.6 569.6,231.0 569.0,228.4 575.0,226.0 580.0,225.0 583.0,229.0 579.0,234.0 576.0,240.0 573.0,242.0 572.0,238.0 569.0,240.0 569.0,233.0 563.0,234.0 564.0,240.0 566.0,244.4 564.0,242.0 560.0,248.0 554.0,254.0 549.0,260.0 548.0,268.0 546.0,275.0 543.0,280.0 539.0,273.0 535.0,264.0 530.0,253.0 529.0,247.0 524.0,246.0 519.0,239.0 521.0,235.0 520.0,230.0 524.0,226.0 529.0,219.0Z" fill="#41b6c4" stroke="#3c4a5c" stroke-opacity="0.55" stroke-width="0.4" stroke-linejoin="round"/>
<path d="M542.0,223.0 546.0,222.0 554.0,226.0 561.0,229.0 560.0,232.0 552.0,229.0 544.0,225.6Z" fill="#1d91c0" stroke="#3c4a5c" stroke-opacity="0.55" stroke-width="0.4" stroke-linejoin="round"/>
<path d="M563.0,229.0 569.0,228.4 569.6,231.0 564.0,231.6Z" fill="#41b6c4" stroke="#3c4a5c" stroke-opacity="0.55" stroke-width="0.4" stroke-linejoin="round"/>
<path d="M563.0,234.0 569.0,233.0 571.0,238.0 570.0,244.0 566.0,244.4 564.0,240.0Z" fill="#7fcdbb" stroke="#3c4a5c" stroke-opacity="0.55" stroke-width="0.4" stroke-linejoin="round"/>
<path d="M548.0,278.0 551.0,276.0 553.0,282.0 551.0,286.0 548.0,284.0Z" fill="#7fcdbb" stroke="#3c4a5c" stroke-opacity="0.55" stroke-width="0.4" stroke-linejoin="round"/>
<path d="M575.0,227.0 580.0,225.0 582.0,229.0 586.0,234.0 588.0,240.0 591.0,244.0 588.0,249.0 586.0,253.0 588.0,260.0 590.0,268.0 591.0,276.0 589.0,274.0 588.0,266.0 585.0,257.0 582.0,260.0 579.0,257.0 578.0,250.0 574.0,244.0 573.0,242.0 576.0,240.0 579.0,234.0Z" fill="#41b6c4" stroke="#3c4a5c" stroke-opacity="0.55" stroke-width="0.4" stroke-linejoin="round"/>
<path d="M588.0,249.0 592.0,248.0 598.0,252.0 603.0,255.0 605.0,260.0 604.0,264.0 600.0,266.0 597.0,268.0 594.0,266.0 592.0,270.0 591.0,276.0 593.0,281.0 598.0,286.0 596.0,287.4 592.0,282.0 590.0,276.0 590.0,268.0 588.0,260.0 586.0,253.0Z" fill="#7fcdbb" stroke="#3c4a5c" stroke-opacity="0.55" stroke-width="0.4" stroke-linejoin="round"/>
<path d="M591.0,244.0 596.0,243.0 600.0,248.0 604.0,254.0 609.0,260.0 608.0,264.0 604.4,264.0 605.0,260.0 603.0,255.0 598.0,252.0 592.0,248.0Z" fill="#41b6c4" stroke="#3c4a5c" stroke-opacity="0.55" stroke-width="0.4" stroke-linejoin="round"/>
<path d="M596.0,243.0 602.0,241.0 608.0,244.0 605.0,249.0 609.0,255.0 613.0,260.0 615.0,267.0 613.0,273.0 607.0,279.0 605.0,276.0 610.0,270.0 611.0,265.0 609.0,260.0 604.0,254.0 600.0,248.0Z" fill="#225ea8" stroke="#3c4a5c" stroke-opacity="0.55" stroke-width="0.4" stroke-linejoin="round"/>
<path d="M600.0,266.0 604.0,264.0 608.0,264.0 611.0,265.0 610.0,270.0 606.0,274.0 601.0,272.0Z" fill="#7fcdbb" stroke="#3c4a5c" stroke-opacity="0.55" stroke-width="0.4" stroke-linejoin="round"/>
<path d="M596.0,287.0 600.0,286.0 603.0,291.0 605.0,298.0 602.0,297.0 598.0,292.0Z" fill="#225ea8" stroke="#3c4a5c" stroke-opacity="0.55" stroke-width="0.4" stroke-linejoin="round"/>
<path d="M458.0,221.0 469.2,224.8 470.0,227.4 473.4,230.8 476.6,235.0 479.4,238.4 484.2,239.4 485.6,241.0 488.6,243.6 485.8,248.4 482.4,253.4 476.6,252.4 468.4,254.2 460.8,256.6 456.0,250.0Z" fill="#24479d"/>
<path d="M484.2,239.4 488.4,236.6 490.8,234.2 491.6,235.0 489.2,238.0 488.6,243.6 485.6,241.0Z" fill="#24479d" stroke="#3c4a5c" stroke-opacity="0.55" stroke-width="0.4" stroke-linejoin="round"/>
<path d="M489.2,238.0 491.6,234.6 495.0,238.4 498.4,243.4 495.8,249.2 493.4,251.6 489.2,255.0 484.2,257.5 482.5,253.4 485.8,248.4 488.6,243.6Z" fill="#1d91c0" stroke="#3c4a5c" stroke-opacity="0.55" stroke-width="0.4" stroke-linejoin="round"/>
<path d="M460.8,256.6 468.4,254.2 476.6,252.5 482.5,253.4 484.2,257.5 480.0,260.8 473.4,264.2 466.6,266.6 461.6,268.4 460.0,263.4Z" fill="#c7e9b4" stroke="#3c4a5c" stroke-opacity="0.55" stroke-width="0.4" stroke-linejoin="round"/>
<path d="M584.0,288.4 589.0,288.0 597.0,296.0 604.0,303.0 609.0,310.0 609.0,316.0 606.0,317.0 600.0,310.0 593.0,300.0 587.0,293.0Z" fill="#41b6c4" stroke="#3c4a5c" stroke-opacity="0.55" stroke-width="0.4" stroke-linejoin="round"/>
<path d="M608.0,318.0 614.0,318.0 622.0,320.0 630.0,323.0 629.0,325.0 620.0,323.6 612.0,321.6Z" fill="#41b6c4" stroke="#3c4a5c" stroke-opacity="0.55" stroke-width="0.4" stroke-linejoin="round"/>
<path d="M634.0,324.0 638.0,323.6 638.4,325.6 634.4,326.0Z" fill="#41b6c4" stroke="#3c4a5c" stroke-opacity="0.55" stroke-width="0.4" stroke-linejoin="round"/>
<path d="M641.0,324.0 647.0,323.6 647.0,325.2 641.4,326.0Z" fill="#41b6c4" stroke="#3c4a5c" stroke-opacity="0.55" stroke-width="0.4" stroke-linejoin="round"/>
<path d="M649.0,328.0 654.0,325.0 657.6,324.0 655.0,327.0 650.0,329.6Z" fill="#41b6c4" stroke="#3c4a5c" stroke-opacity="0.55" stroke-width="0.4" stroke-linejoin="round"/>
<path d="M616.4,300.0 620.0,299.0 625.0,300.0 630.0,296.0 634.0,291.0 638.0,292.0 637.0,298.0 639.0,300.0 636.0,304.0 634.0,309.0 630.0,312.0 625.0,311.0 620.0,309.0 617.0,305.0Z" fill="#41b6c4" stroke="#3c4a5c" stroke-opacity="0.55" stroke-width="0.4" stroke-linejoin="round"/>
<path d="M618.0,297.0 623.0,295.0 628.0,291.0 632.0,285.0 636.0,284.0 639.6,288.0 638.0,292.0 634.0,291.0 630.0,296.0 625.0,300.0 620.0,299.0Z" fill="#225ea8" stroke="#3c4a5c" stroke-opacity="0.55" stroke-width="0.4" stroke-linejoin="round"/>
<path d="M642.0,301.0 647.0,299.6 653.0,299.0 652.0,301.0 647.0,303.0 645.0,306.0 649.0,309.0 647.0,311.0 648.0,315.0 646.0,315.0 644.0,310.0 642.0,313.0 642.4,317.0 640.0,317.0 639.4,310.0 640.4,305.0Z" fill="#41b6c4" stroke="#3c4a5c" stroke-opacity="0.55" stroke-width="0.4" stroke-linejoin="round"/>
<path d="M659.4,298.0 661.6,297.0 662.4,302.0 660.4,303.6Z" fill="#41b6c4" stroke="#3c4a5c" stroke-opacity="0.55" stroke-width="0.4" stroke-linejoin="round"/>
<path d="M660.4,310.0 665.6,309.6 665.6,311.6 661.0,311.4Z" fill="#41b6c4" stroke="#3c4a5c" stroke-opacity="0.55" stroke-width="0.4" stroke-linejoin="round"/>
<path d="M656.0,310.4 659.0,310.0 659.0,311.6 656.4,311.6Z" fill="#41b6c4" stroke="#3c4a5c" stroke-opacity="0.55" stroke-width="0.4" stroke-linejoin="round"/>
<path d="M667.6,304.0 672.0,303.0 675.0,306.0 674.0,309.0 678.0,310.0 682.0,307.0 687.0,306.4 690.4,308.4 689.6,325.0 686.0,323.0 683.0,324.0 685.0,320.0 681.0,317.0 676.0,313.0 672.0,311.0 669.0,307.0Z" fill="#41b6c4" stroke="#3c4a5c" stroke-opacity="0.55" stroke-width="0.4" stroke-linejoin="round"/>
<path d="M690.4,308.4 698.0,312.0 703.0,317.0 707.0,320.0 706.0,323.0 710.0,328.0 711.6,330.0 706.0,329.0 700.0,326.0 695.0,327.0 689.6,325.0Z" fill="#7fcdbb" stroke="#3c4a5c" stroke-opacity="0.55" stroke-width="0.4" stroke-linejoin="round"/>
<path d="M707.0,317.0 712.0,315.0 717.0,310.0 719.0,312.0 715.0,317.0 710.0,319.0Z" fill="#7fcdbb" stroke="#3c4a5c" stroke-opacity="0.55" stroke-width="0.4" stroke-linejoin="round"/>
<path d="M722.0,316.0 725.0,319.0 728.0,322.0 726.4,322.4 723.0,319.0Z" fill="#c7e9b4" stroke="#3c4a5c" stroke-opacity="0.55" stroke-width="0.4" stroke-linejoin="round"/>
<path d="M731.0,323.0 736.0,327.0 738.0,330.0 735.0,329.0Z" fill="#c7e9b4" stroke="#3c4a5c" stroke-opacity="0.55" stroke-width="0.4" stroke-linejoin="round"/>
<path d="M639.0,255.0 642.0,253.0 644.0,256.0 643.6,261.0 646.0,265.0 649.0,268.0 647.0,269.0 643.0,266.0 640.0,262.0 638.6,258.0Z" fill="#41b6c4" stroke="#3c4a5c" stroke-opacity="0.55" stroke-width="0.4" stroke-linejoin="round"/>
<path d="M644.0,269.0 650.0,270.0 653.0,274.0 650.0,275.0 646.0,273.0Z" fill="#41b6c4" stroke="#3c4a5c" stroke-opacity="0.55" stroke-width="0.4" stroke-linejoin="round"/>
<path d="M649.0,279.0 654.0,277.0 656.4,282.0 655.0,287.0 651.0,286.0 647.0,283.0Z" fill="#41b6c4" stroke="#3c4a5c" stroke-opacity="0.55" stroke-width="0.4" stroke-linejoin="round"/>
<path d="M635.0,279.0 639.0,273.0 639.8,274.0 636.4,280.0Z" fill="#41b6c4" stroke="#3c4a5c" stroke-opacity="0.55" stroke-width="0.4" stroke-linejoin="round"/>
<path d="M619.0,368.0 621.0,361.0 628.0,357.0 636.0,354.0 644.0,349.0 647.0,345.0 653.0,342.0 658.0,339.0 662.0,340.0 664.0,336.0 669.0,332.0 674.0,334.0 679.0,334.0 677.0,340.0 682.0,345.0 687.0,348.0 690.0,339.0 692.0,331.0 695.0,339.0 698.0,346.0 702.0,354.0 706.0,361.0 708.0,368.0 708.0,376.0 704.0,384.0 700.0,390.0 694.0,396.0 690.0,400.0 686.0,402.0 680.0,404.0 675.0,403.0 670.0,401.0 667.0,396.0 668.0,391.0 665.0,393.0 663.0,394.0 660.0,389.0 655.0,386.0 648.0,387.0 641.0,388.0 634.0,390.0 627.0,393.0 621.0,394.0 616.0,392.4 618.0,388.0 620.0,380.0 619.0,374.0Z" fill="#263391" stroke="#3c4a5c" stroke-opacity="0.55" stroke-width="0.4" stroke-linejoin="round"/>
<path d="M672.0,410.0 679.0,409.0 677.0,414.0 671.0,417.0 670.0,414.0Z" fill="#263391" stroke="#3c4a5c" stroke-opacity="0.55" stroke-width="0.4" stroke-linejoin="round"/>
<path d="M742.0,393.0 744.4,395.0 745.0,400.0 749.4,401.0 746.0,405.0 741.0,408.0 736.0,411.0 735.6,409.0 739.0,405.0 742.0,400.0Z" fill="#24479d" stroke="#3c4a5c" stroke-opacity="0.55" stroke-width="0.4" stroke-linejoin="round"/>
<path d="M708.0,422.4 714.0,419.0 721.0,415.6 728.0,411.6 732.4,409.0 734.0,411.0 730.0,414.4 723.0,418.0 716.0,422.0 711.0,424.0Z" fill="#24479d"/>
<path d="M738.0,355.0 739.6,354.4 743.6,360.0 742.0,360.6Z" fill="#24479d" stroke="#3c4a5c" stroke-opacity="0.55" stroke-width="0.4" stroke-linejoin="round"/>
<path d="M747.0,341.0 748.2,341.0 748.8,345.0 747.6,345.0Z" fill="#41b6c4" stroke="#3c4a5c" stroke-opacity="0.55" stroke-width="0.4" stroke-linejoin="round"/>
<path d="M770.0,348.0 773.0,347.0 773.0,349.0 770.4,349.6Z" fill="#1d91c0" stroke="#3c4a5c" stroke-opacity="0.55" stroke-width="0.4" stroke-linejoin="round"/>
<path d="M774.0,345.6 777.0,344.4 776.6,346.0Z" fill="#1d91c0" stroke="#3c4a5c" stroke-opacity="0.55" stroke-width="0.4" stroke-linejoin="round"/>
<path d="M449.4,189.0 453.6,189.0 458.4,190.8 460.2,193.2 456.0,193.5 451.8,192.3Z" fill="#24479d" stroke="#3c4a5c" stroke-opacity="0.55" stroke-width="0.4" stroke-linejoin="round"/>
<path d="M456.0,193.5 460.2,193.2 463.2,192.3 469.0,196.2 469.2,199.8 465.6,198.0 462.6,197.4 459.6,196.2 458.4,198.0 457.2,195.0Z" fill="#225ea8" stroke="#3c4a5c" stroke-opacity="0.55" stroke-width="0.4" stroke-linejoin="round"/>
<path d="M460.8,184.2 462.6,181.2 466.2,179.4 470.4,178.8 472.8,180.0 471.6,182.4 469.2,183.6 468.0,186.0 471.0,188.4 473.4,191.4 476.4,191.4 478.2,193.2 476.4,195.0 477.6,198.0 478.8,201.6 478.2,204.6 474.6,204.6 471.0,202.8 468.6,199.8 468.6,196.2 468.0,193.2 465.6,190.2 462.6,187.2Z" fill="#ffffff" stroke="#3c4a5c" stroke-opacity="0.55" stroke-width="0.4" stroke-linejoin="round"/>
<path d="M421.8,189.6 423.6,184.8 426.6,180.6 430.2,180.0 432.0,183.0 434.4,185.1 436.8,183.6 435.6,181.0 438.0,179.1 442.6,178.2 440.6,181.5 438.2,183.3 442.2,185.1 445.8,186.6 449.4,189.0 450.6,192.0 447.6,193.5 441.6,192.6 436.8,191.4 432.6,192.0 429.0,193.5 424.8,193.9 422.2,192.6Z" fill="#ffffff" stroke="#3c4a5c" stroke-opacity="0.55" stroke-width="0.4" stroke-linejoin="round"/>
</g>
<g id="legend">
<rect x="69.5" y="502.5" width="47" height="10" fill="url(#hatch)" stroke="#bdbdbd" stroke-width="0.6"/>
<line x1="93" y1="499.5" x2="93" y2="502.5" stroke="#bbb" stroke-width="0.6"/>
<text x="93" y="495.7" text-anchor="middle" class="lg">No data</text>
<rect x="136.2" y="502.5" width="58.6" height="10" fill="#ffffd9"/>
<rect x="194.8" y="502.5" width="58.6" height="10" fill="#edf8b1"/>
<rect x="253.4" y="502.5" width="58.6" height="10" fill="#c7e9b4"/>
<rect x="312.0" y="502.5" width="58.6" height="10" fill="#7fcdbb"/>
<rect x="370.6" y="502.5" width="58.6" height="10" fill="#41b6c4"/>
<rect x="429.2" y="502.5" width="58.6" height="10" fill="#1d91c0"/>
<rect x="487.8" y="502.5" width="58.6" height="10" fill="#225ea8"/>
<rect x="546.4" y="502.5" width="58.6" height="10" fill="#24479d"/>
<rect x="605.0" y="502.5" width="58.6" height="10" fill="#263391"/>
<rect x="663.6" y="502.5" width="58.6" height="10" fill="#172976"/>
<path d="M722.2,502.5 H775.5 L780.5,507.5 L775.5,512.5 H722.2Z" fill="#081d58"/>
<line x1="194.8" y1="499.5" x2="194.8" y2="512.5" stroke="#5b5b5b" stroke-opacity="0.6" stroke-width="0.6"/>
<line x1="253.4" y1="499.5" x2="253.4" y2="512.5" stroke="#5b5b5b" stroke-opacity="0.6" stroke-width="0.6"/>
<line x1="312.0" y1="499.5" x2="312.0" y2="512.5" stroke="#5b5b5b" stroke-opacity="0.6" stroke-width="0.6"/>
<line x1="370.6" y1="499.5" x2="370.6" y2="512.5" stroke="#5b5b5b" stroke-opacity="0.6" stroke-width="0.6"/>
<line x1="429.2" y1="499.5" x2="429.2" y2="512.5" stroke="#5b5b5b" stroke-opacity="0.6" stroke-width="0.6"/>
<line x1="487.8" y1="499.5" x2="487.8" y2="512.5" stroke="#5b5b5b" stroke-opacity="0.6" stroke-width="0.6"/>
<line x1="546.4" y1="499.5" x2="546.4" y2="512.5" stroke="#5b5b5b" stroke-opacity="0.6" stroke-width="0.6"/>
<line x1="605.0" y1="499.5" x2="605.0" y2="512.5" stroke="#5b5b5b" stroke-opacity="0.6" stroke-width="0.6"/>
<line x1="663.6" y1="499.5" x2="663.6" y2="512.5" stroke="#5b5b5b" stroke-opacity="0.6" stroke-width="0.6"/>
<line x1="722.2" y1="499.5" x2="722.2" y2="512.5" stroke="#5b5b5b" stroke-opacity="0.6" stroke-width="0.6"/>
<path d="M136.2,502.5 H775.5 L780.5,507.5 L775.5,512.5 H136.2Z" fill="none" stroke="#8c8c8c" stroke-width="0.5" stroke-opacity="0.7"/>
<text x="136.2" y="495.7" text-anchor="middle" class="lg">0 g</text>
<text x="194.8" y="495.7" text-anchor="middle" class="lg">0 g</text>
<text x="253.4" y="495.7" text-anchor="middle" class="lg">50 g</text>
<text x="312.0" y="495.7" text-anchor="middle" class="lg">60 g</text>
<text x="370.6" y="495.7" text-anchor="middle" class="lg">70 g</text>
<text x="429.2" y="495.7" text-anchor="middle" class="lg">80 g</text>
<text x="487.8" y="495.7" text-anchor="middle" class="lg">90 g</text>
<text x="546.4" y="495.7" text-anchor="middle" class="lg">100 g</text>
<text x="605.0" y="495.7" text-anchor="middle" class="lg">110 g</text>
<text x="663.6" y="495.7" text-anchor="middle" class="lg">120 g</text>
<text x="722.2" y="495.7" text-anchor="middle" class="lg">130 g</text>
</g>
<g id="footer">
<text x="16.5" y="544.6" class="ft b" textLength="71.5" lengthAdjust="spacingAndGlyphs">Data source:</text>
<text x="92" y="544.6" class="ft" textLength="363" lengthAdjust="spacingAndGlyphs">Food and Agriculture Organization of the United Nations (2024)</text>
<text x="831" y="544.6" text-anchor="end" class="ft" textLength="115" lengthAdjust="spacingAndGlyphs">food-supply | CC BY</text>
<text x="16.5" y="564.7" class="ft b" textLength="31" lengthAdjust="spacingAndGlyphs">Note:</text>
<text x="51.7" y="564.7" class="ft" textLength="738" lengthAdjust="spacingAndGlyphs">Data measures the availability delivered to households but does not necessarily indicate the quantity of protein actually consumed</text>
<text x="16.5" y="580.1" class="ft" textLength="249" lengthAdjust="spacingAndGlyphs">(food may be wasted at the consumer level).</text>
</g>
</svg>
</body></html>
